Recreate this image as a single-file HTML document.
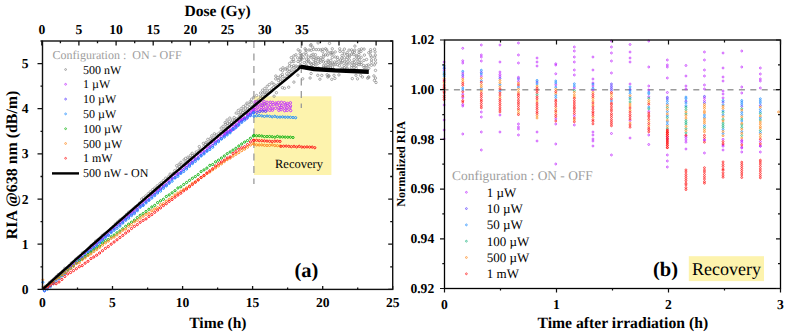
<!DOCTYPE html>
<html><head><meta charset="utf-8"><style>
html,body{margin:0;padding:0;background:#fff;}
body{width:788px;height:336px;overflow:hidden;font-family:"Liberation Serif",serif;}
svg{display:block;} text{text-rendering:geometricPrecision;}
</style></head><body><svg width="788" height="336" viewBox="0 0 788 336"><rect x="254" y="96.3" width="77.4" height="78.7" fill="#fdf3ad"/><line x1="253.9" y1="41" x2="253.9" y2="184" stroke="#9a9a9a" stroke-width="1.3" stroke-dasharray="7 5.5"/><line x1="301.3" y1="41" x2="301.3" y2="108" stroke="#9a9a9a" stroke-width="1.3" stroke-dasharray="7 5.5"/><path d="M43.8 286.3a1.2 1.2 0 1 0 2.4 0a1.2 1.2 0 1 0 -2.4 0M46.0 285.4a1.2 1.2 0 1 0 2.4 0a1.2 1.2 0 1 0 -2.4 0M48.2 282.5a1.2 1.2 0 1 0 2.4 0a1.2 1.2 0 1 0 -2.4 0M50.4 280.8a1.2 1.2 0 1 0 2.4 0a1.2 1.2 0 1 0 -2.4 0M52.6 278.9a1.2 1.2 0 1 0 2.4 0a1.2 1.2 0 1 0 -2.4 0M54.8 276.7a1.2 1.2 0 1 0 2.4 0a1.2 1.2 0 1 0 -2.4 0M57.0 274.5a1.2 1.2 0 1 0 2.4 0a1.2 1.2 0 1 0 -2.4 0M59.2 273.3a1.2 1.2 0 1 0 2.4 0a1.2 1.2 0 1 0 -2.4 0M61.4 271.2a1.2 1.2 0 1 0 2.4 0a1.2 1.2 0 1 0 -2.4 0M63.6 268.3a1.2 1.2 0 1 0 2.4 0a1.2 1.2 0 1 0 -2.4 0M65.8 268.1a1.2 1.2 0 1 0 2.4 0a1.2 1.2 0 1 0 -2.4 0M68.0 265.6a1.2 1.2 0 1 0 2.4 0a1.2 1.2 0 1 0 -2.4 0M70.2 262.9a1.2 1.2 0 1 0 2.4 0a1.2 1.2 0 1 0 -2.4 0M72.4 261.6a1.2 1.2 0 1 0 2.4 0a1.2 1.2 0 1 0 -2.4 0M74.6 259.1a1.2 1.2 0 1 0 2.4 0a1.2 1.2 0 1 0 -2.4 0M76.8 257.3a1.2 1.2 0 1 0 2.4 0a1.2 1.2 0 1 0 -2.4 0M79.0 255.7a1.2 1.2 0 1 0 2.4 0a1.2 1.2 0 1 0 -2.4 0M81.2 252.9a1.2 1.2 0 1 0 2.4 0a1.2 1.2 0 1 0 -2.4 0M83.4 251.7a1.2 1.2 0 1 0 2.4 0a1.2 1.2 0 1 0 -2.4 0M85.6 250.1a1.2 1.2 0 1 0 2.4 0a1.2 1.2 0 1 0 -2.4 0M87.8 248.1a1.2 1.2 0 1 0 2.4 0a1.2 1.2 0 1 0 -2.4 0M90.0 245.5a1.2 1.2 0 1 0 2.4 0a1.2 1.2 0 1 0 -2.4 0M92.2 244.0a1.2 1.2 0 1 0 2.4 0a1.2 1.2 0 1 0 -2.4 0M94.4 241.1a1.2 1.2 0 1 0 2.4 0a1.2 1.2 0 1 0 -2.4 0M96.6 239.7a1.2 1.2 0 1 0 2.4 0a1.2 1.2 0 1 0 -2.4 0M98.8 238.0a1.2 1.2 0 1 0 2.4 0a1.2 1.2 0 1 0 -2.4 0M101.0 235.4a1.2 1.2 0 1 0 2.4 0a1.2 1.2 0 1 0 -2.4 0M103.2 233.9a1.2 1.2 0 1 0 2.4 0a1.2 1.2 0 1 0 -2.4 0M105.4 232.7a1.2 1.2 0 1 0 2.4 0a1.2 1.2 0 1 0 -2.4 0M107.6 231.1a1.2 1.2 0 1 0 2.4 0a1.2 1.2 0 1 0 -2.4 0M109.8 228.5a1.2 1.2 0 1 0 2.4 0a1.2 1.2 0 1 0 -2.4 0M112.0 226.5a1.2 1.2 0 1 0 2.4 0a1.2 1.2 0 1 0 -2.4 0M114.2 223.9a1.2 1.2 0 1 0 2.4 0a1.2 1.2 0 1 0 -2.4 0M116.4 221.9a1.2 1.2 0 1 0 2.4 0a1.2 1.2 0 1 0 -2.4 0M118.6 219.9a1.2 1.2 0 1 0 2.4 0a1.2 1.2 0 1 0 -2.4 0M120.8 218.7a1.2 1.2 0 1 0 2.4 0a1.2 1.2 0 1 0 -2.4 0M123.0 216.9a1.2 1.2 0 1 0 2.4 0a1.2 1.2 0 1 0 -2.4 0M125.2 214.4a1.2 1.2 0 1 0 2.4 0a1.2 1.2 0 1 0 -2.4 0M127.4 212.2a1.2 1.2 0 1 0 2.4 0a1.2 1.2 0 1 0 -2.4 0M129.6 210.9a1.2 1.2 0 1 0 2.4 0a1.2 1.2 0 1 0 -2.4 0M131.8 209.0a1.2 1.2 0 1 0 2.4 0a1.2 1.2 0 1 0 -2.4 0M134.0 206.9a1.2 1.2 0 1 0 2.4 0a1.2 1.2 0 1 0 -2.4 0M136.2 205.6a1.2 1.2 0 1 0 2.4 0a1.2 1.2 0 1 0 -2.4 0M138.4 203.1a1.2 1.2 0 1 0 2.4 0a1.2 1.2 0 1 0 -2.4 0M140.4 199.2a1.2 1.2 0 1 0 2.4 0a1.2 1.2 0 1 0 -2.4 0M142.3 197.8a1.2 1.2 0 1 0 2.4 0a1.2 1.2 0 1 0 -2.4 0M144.6 195.9a1.2 1.2 0 1 0 2.4 0a1.2 1.2 0 1 0 -2.4 0M147.0 193.7a1.2 1.2 0 1 0 2.4 0a1.2 1.2 0 1 0 -2.4 0M149.1 191.8a1.2 1.2 0 1 0 2.4 0a1.2 1.2 0 1 0 -2.4 0M151.4 189.7a1.2 1.2 0 1 0 2.4 0a1.2 1.2 0 1 0 -2.4 0M153.6 188.0a1.2 1.2 0 1 0 2.4 0a1.2 1.2 0 1 0 -2.4 0M156.0 185.8a1.2 1.2 0 1 0 2.4 0a1.2 1.2 0 1 0 -2.4 0M158.6 183.8a1.2 1.2 0 1 0 2.4 0a1.2 1.2 0 1 0 -2.4 0M160.1 182.7a1.2 1.2 0 1 0 2.4 0a1.2 1.2 0 1 0 -2.4 0M162.2 180.6a1.2 1.2 0 1 0 2.4 0a1.2 1.2 0 1 0 -2.4 0M164.5 178.2a1.2 1.2 0 1 0 2.4 0a1.2 1.2 0 1 0 -2.4 0M167.4 176.6a1.2 1.2 0 1 0 2.4 0a1.2 1.2 0 1 0 -2.4 0M168.9 174.1a1.2 1.2 0 1 0 2.4 0a1.2 1.2 0 1 0 -2.4 0M171.8 173.5a1.2 1.2 0 1 0 2.4 0a1.2 1.2 0 1 0 -2.4 0M173.5 170.7a1.2 1.2 0 1 0 2.4 0a1.2 1.2 0 1 0 -2.4 0M176.3 168.5a1.2 1.2 0 1 0 2.4 0a1.2 1.2 0 1 0 -2.4 0M175.5 165.7a1.2 1.2 0 1 0 2.4 0a1.2 1.2 0 1 0 -2.4 0M178.3 166.8a1.2 1.2 0 1 0 2.4 0a1.2 1.2 0 1 0 -2.4 0M177.9 164.2a1.2 1.2 0 1 0 2.4 0a1.2 1.2 0 1 0 -2.4 0M180.0 165.0a1.2 1.2 0 1 0 2.4 0a1.2 1.2 0 1 0 -2.4 0M179.8 162.3a1.2 1.2 0 1 0 2.4 0a1.2 1.2 0 1 0 -2.4 0M182.8 164.1a1.2 1.2 0 1 0 2.4 0a1.2 1.2 0 1 0 -2.4 0M182.8 159.9a1.2 1.2 0 1 0 2.4 0a1.2 1.2 0 1 0 -2.4 0M184.8 162.1a1.2 1.2 0 1 0 2.4 0a1.2 1.2 0 1 0 -2.4 0M184.4 158.4a1.2 1.2 0 1 0 2.4 0a1.2 1.2 0 1 0 -2.4 0M186.6 159.7a1.2 1.2 0 1 0 2.4 0a1.2 1.2 0 1 0 -2.4 0M186.7 157.2a1.2 1.2 0 1 0 2.4 0a1.2 1.2 0 1 0 -2.4 0M188.6 157.8a1.2 1.2 0 1 0 2.4 0a1.2 1.2 0 1 0 -2.4 0M189.3 155.4a1.2 1.2 0 1 0 2.4 0a1.2 1.2 0 1 0 -2.4 0M191.4 155.6a1.2 1.2 0 1 0 2.4 0a1.2 1.2 0 1 0 -2.4 0M191.0 153.3a1.2 1.2 0 1 0 2.4 0a1.2 1.2 0 1 0 -2.4 0M193.6 154.7a1.2 1.2 0 1 0 2.4 0a1.2 1.2 0 1 0 -2.4 0M195.1 151.9a1.2 1.2 0 1 0 2.4 0a1.2 1.2 0 1 0 -2.4 0M197.9 150.1a1.2 1.2 0 1 0 2.4 0a1.2 1.2 0 1 0 -2.4 0M198.1 146.6a1.2 1.2 0 1 0 2.4 0a1.2 1.2 0 1 0 -2.4 0M199.6 149.1a1.2 1.2 0 1 0 2.4 0a1.2 1.2 0 1 0 -2.4 0M202.6 146.5a1.2 1.2 0 1 0 2.4 0a1.2 1.2 0 1 0 -2.4 0M202.2 143.4a1.2 1.2 0 1 0 2.4 0a1.2 1.2 0 1 0 -2.4 0M204.1 144.2a1.2 1.2 0 1 0 2.4 0a1.2 1.2 0 1 0 -2.4 0M204.8 142.4a1.2 1.2 0 1 0 2.4 0a1.2 1.2 0 1 0 -2.4 0M206.8 143.1a1.2 1.2 0 1 0 2.4 0a1.2 1.2 0 1 0 -2.4 0M206.6 139.4a1.2 1.2 0 1 0 2.4 0a1.2 1.2 0 1 0 -2.4 0M209.2 141.5a1.2 1.2 0 1 0 2.4 0a1.2 1.2 0 1 0 -2.4 0M209.2 138.6a1.2 1.2 0 1 0 2.4 0a1.2 1.2 0 1 0 -2.4 0M211.0 139.4a1.2 1.2 0 1 0 2.4 0a1.2 1.2 0 1 0 -2.4 0M210.6 135.8a1.2 1.2 0 1 0 2.4 0a1.2 1.2 0 1 0 -2.4 0M212.8 137.8a1.2 1.2 0 1 0 2.4 0a1.2 1.2 0 1 0 -2.4 0M213.2 133.8a1.2 1.2 0 1 0 2.4 0a1.2 1.2 0 1 0 -2.4 0M215.0 134.9a1.2 1.2 0 1 0 2.4 0a1.2 1.2 0 1 0 -2.4 0M217.6 133.3a1.2 1.2 0 1 0 2.4 0a1.2 1.2 0 1 0 -2.4 0M219.8 131.4a1.2 1.2 0 1 0 2.4 0a1.2 1.2 0 1 0 -2.4 0M220.0 128.1a1.2 1.2 0 1 0 2.4 0a1.2 1.2 0 1 0 -2.4 0M222.3 130.3a1.2 1.2 0 1 0 2.4 0a1.2 1.2 0 1 0 -2.4 0M221.9 126.3a1.2 1.2 0 1 0 2.4 0a1.2 1.2 0 1 0 -2.4 0M224.1 128.3a1.2 1.2 0 1 0 2.4 0a1.2 1.2 0 1 0 -2.4 0M224.3 124.3a1.2 1.2 0 1 0 2.4 0a1.2 1.2 0 1 0 -2.4 0M223.9 122.6a1.2 1.2 0 1 0 2.4 0a1.2 1.2 0 1 0 -2.4 0M225.9 125.7a1.2 1.2 0 1 0 2.4 0a1.2 1.2 0 1 0 -2.4 0M226.5 123.3a1.2 1.2 0 1 0 2.4 0a1.2 1.2 0 1 0 -2.4 0M225.9 120.0a1.2 1.2 0 1 0 2.4 0a1.2 1.2 0 1 0 -2.4 0M228.3 124.1a1.2 1.2 0 1 0 2.4 0a1.2 1.2 0 1 0 -2.4 0M228.3 121.7a1.2 1.2 0 1 0 2.4 0a1.2 1.2 0 1 0 -2.4 0M228.6 118.1a1.2 1.2 0 1 0 2.4 0a1.2 1.2 0 1 0 -2.4 0M230.4 122.5a1.2 1.2 0 1 0 2.4 0a1.2 1.2 0 1 0 -2.4 0M231.2 120.0a1.2 1.2 0 1 0 2.4 0a1.2 1.2 0 1 0 -2.4 0M233.4 120.5a1.2 1.2 0 1 0 2.4 0a1.2 1.2 0 1 0 -2.4 0M233.0 117.5a1.2 1.2 0 1 0 2.4 0a1.2 1.2 0 1 0 -2.4 0M234.9 118.8a1.2 1.2 0 1 0 2.4 0a1.2 1.2 0 1 0 -2.4 0M235.0 113.1a1.2 1.2 0 1 0 2.4 0a1.2 1.2 0 1 0 -2.4 0M237.6 117.5a1.2 1.2 0 1 0 2.4 0a1.2 1.2 0 1 0 -2.4 0M237.8 114.3a1.2 1.2 0 1 0 2.4 0a1.2 1.2 0 1 0 -2.4 0M237.1 110.4a1.2 1.2 0 1 0 2.4 0a1.2 1.2 0 1 0 -2.4 0M240.0 114.7a1.2 1.2 0 1 0 2.4 0a1.2 1.2 0 1 0 -2.4 0M239.5 111.9a1.2 1.2 0 1 0 2.4 0a1.2 1.2 0 1 0 -2.4 0M239.9 108.7a1.2 1.2 0 1 0 2.4 0a1.2 1.2 0 1 0 -2.4 0M241.6 112.5a1.2 1.2 0 1 0 2.4 0a1.2 1.2 0 1 0 -2.4 0M242.1 110.1a1.2 1.2 0 1 0 2.4 0a1.2 1.2 0 1 0 -2.4 0M242.1 106.6a1.2 1.2 0 1 0 2.4 0a1.2 1.2 0 1 0 -2.4 0M244.0 111.6a1.2 1.2 0 1 0 2.4 0a1.2 1.2 0 1 0 -2.4 0M244.4 108.2a1.2 1.2 0 1 0 2.4 0a1.2 1.2 0 1 0 -2.4 0M244.5 105.2a1.2 1.2 0 1 0 2.4 0a1.2 1.2 0 1 0 -2.4 0M246.5 108.8a1.2 1.2 0 1 0 2.4 0a1.2 1.2 0 1 0 -2.4 0M245.8 103.1a1.2 1.2 0 1 0 2.4 0a1.2 1.2 0 1 0 -2.4 0M248.3 107.6a1.2 1.2 0 1 0 2.4 0a1.2 1.2 0 1 0 -2.4 0M247.9 104.7a1.2 1.2 0 1 0 2.4 0a1.2 1.2 0 1 0 -2.4 0M248.9 101.7a1.2 1.2 0 1 0 2.4 0a1.2 1.2 0 1 0 -2.4 0M251.0 106.4a1.2 1.2 0 1 0 2.4 0a1.2 1.2 0 1 0 -2.4 0M250.2 102.3a1.2 1.2 0 1 0 2.4 0a1.2 1.2 0 1 0 -2.4 0M250.4 99.2a1.2 1.2 0 1 0 2.4 0a1.2 1.2 0 1 0 -2.4 0M253.2 104.2a1.2 1.2 0 1 0 2.4 0a1.2 1.2 0 1 0 -2.4 0M252.5 97.4a1.2 1.2 0 1 0 2.4 0a1.2 1.2 0 1 0 -2.4 0M255.4 101.6a1.2 1.2 0 1 0 2.4 0a1.2 1.2 0 1 0 -2.4 0M255.4 95.5a1.2 1.2 0 1 0 2.4 0a1.2 1.2 0 1 0 -2.4 0M257.1 100.1a1.2 1.2 0 1 0 2.4 0a1.2 1.2 0 1 0 -2.4 0M259.3 98.3a1.2 1.2 0 1 0 2.4 0a1.2 1.2 0 1 0 -2.4 0M259.5 96.0a1.2 1.2 0 1 0 2.4 0a1.2 1.2 0 1 0 -2.4 0M259.4 93.0a1.2 1.2 0 1 0 2.4 0a1.2 1.2 0 1 0 -2.4 0M261.4 96.4a1.2 1.2 0 1 0 2.4 0a1.2 1.2 0 1 0 -2.4 0M261.6 92.9a1.2 1.2 0 1 0 2.4 0a1.2 1.2 0 1 0 -2.4 0M261.4 90.2a1.2 1.2 0 1 0 2.4 0a1.2 1.2 0 1 0 -2.4 0M261.3 105.3a1.2 1.2 0 1 0 2.4 0a1.2 1.2 0 1 0 -2.4 0M264.3 94.6a1.2 1.2 0 1 0 2.4 0a1.2 1.2 0 1 0 -2.4 0M263.6 92.2a1.2 1.2 0 1 0 2.4 0a1.2 1.2 0 1 0 -2.4 0M263.6 88.5a1.2 1.2 0 1 0 2.4 0a1.2 1.2 0 1 0 -2.4 0M263.8 103.8a1.2 1.2 0 1 0 2.4 0a1.2 1.2 0 1 0 -2.4 0M265.6 93.0a1.2 1.2 0 1 0 2.4 0a1.2 1.2 0 1 0 -2.4 0M266.0 90.2a1.2 1.2 0 1 0 2.4 0a1.2 1.2 0 1 0 -2.4 0M266.0 86.3a1.2 1.2 0 1 0 2.4 0a1.2 1.2 0 1 0 -2.4 0M268.4 90.6a1.2 1.2 0 1 0 2.4 0a1.2 1.2 0 1 0 -2.4 0M268.1 84.5a1.2 1.2 0 1 0 2.4 0a1.2 1.2 0 1 0 -2.4 0M270.6 88.8a1.2 1.2 0 1 0 2.4 0a1.2 1.2 0 1 0 -2.4 0M270.7 82.8a1.2 1.2 0 1 0 2.4 0a1.2 1.2 0 1 0 -2.4 0M272.1 87.4a1.2 1.2 0 1 0 2.4 0a1.2 1.2 0 1 0 -2.4 0M272.8 84.3a1.2 1.2 0 1 0 2.4 0a1.2 1.2 0 1 0 -2.4 0M272.9 96.2a1.2 1.2 0 1 0 2.4 0a1.2 1.2 0 1 0 -2.4 0M274.7 85.9a1.2 1.2 0 1 0 2.4 0a1.2 1.2 0 1 0 -2.4 0M274.5 78.9a1.2 1.2 0 1 0 2.4 0a1.2 1.2 0 1 0 -2.4 0M274.6 76.0a1.2 1.2 0 1 0 2.4 0a1.2 1.2 0 1 0 -2.4 0M275.2 92.7a1.2 1.2 0 1 0 2.4 0a1.2 1.2 0 1 0 -2.4 0M276.8 84.5a1.2 1.2 0 1 0 2.4 0a1.2 1.2 0 1 0 -2.4 0M277.2 80.5a1.2 1.2 0 1 0 2.4 0a1.2 1.2 0 1 0 -2.4 0M276.7 77.6a1.2 1.2 0 1 0 2.4 0a1.2 1.2 0 1 0 -2.4 0M279.2 81.9a1.2 1.2 0 1 0 2.4 0a1.2 1.2 0 1 0 -2.4 0M279.1 78.9a1.2 1.2 0 1 0 2.4 0a1.2 1.2 0 1 0 -2.4 0M279.3 75.9a1.2 1.2 0 1 0 2.4 0a1.2 1.2 0 1 0 -2.4 0M279.4 69.5a1.2 1.2 0 1 0 2.4 0a1.2 1.2 0 1 0 -2.4 0M281.5 80.8a1.2 1.2 0 1 0 2.4 0a1.2 1.2 0 1 0 -2.4 0M281.6 76.6a1.2 1.2 0 1 0 2.4 0a1.2 1.2 0 1 0 -2.4 0M281.1 74.4a1.2 1.2 0 1 0 2.4 0a1.2 1.2 0 1 0 -2.4 0M281.4 70.8a1.2 1.2 0 1 0 2.4 0a1.2 1.2 0 1 0 -2.4 0M281.7 67.8a1.2 1.2 0 1 0 2.4 0a1.2 1.2 0 1 0 -2.4 0M281.2 87.7a1.2 1.2 0 1 0 2.4 0a1.2 1.2 0 1 0 -2.4 0M283.8 78.5a1.2 1.2 0 1 0 2.4 0a1.2 1.2 0 1 0 -2.4 0M284.0 69.0a1.2 1.2 0 1 0 2.4 0a1.2 1.2 0 1 0 -2.4 0M283.3 88.3a1.2 1.2 0 1 0 2.4 0a1.2 1.2 0 1 0 -2.4 0M285.8 76.4a1.2 1.2 0 1 0 2.4 0a1.2 1.2 0 1 0 -2.4 0M285.5 73.7a1.2 1.2 0 1 0 2.4 0a1.2 1.2 0 1 0 -2.4 0M286.2 70.0a1.2 1.2 0 1 0 2.4 0a1.2 1.2 0 1 0 -2.4 0M285.9 67.9a1.2 1.2 0 1 0 2.4 0a1.2 1.2 0 1 0 -2.4 0M288.2 75.0a1.2 1.2 0 1 0 2.4 0a1.2 1.2 0 1 0 -2.4 0M287.9 71.5a1.2 1.2 0 1 0 2.4 0a1.2 1.2 0 1 0 -2.4 0M288.3 65.9a1.2 1.2 0 1 0 2.4 0a1.2 1.2 0 1 0 -2.4 0M288.4 63.4a1.2 1.2 0 1 0 2.4 0a1.2 1.2 0 1 0 -2.4 0M287.5 87.2a1.2 1.2 0 1 0 2.4 0a1.2 1.2 0 1 0 -2.4 0M289.7 72.7a1.2 1.2 0 1 0 2.4 0a1.2 1.2 0 1 0 -2.4 0M290.0 70.0a1.2 1.2 0 1 0 2.4 0a1.2 1.2 0 1 0 -2.4 0M290.5 66.6a1.2 1.2 0 1 0 2.4 0a1.2 1.2 0 1 0 -2.4 0M290.7 61.4a1.2 1.2 0 1 0 2.4 0a1.2 1.2 0 1 0 -2.4 0M290.1 57.6a1.2 1.2 0 1 0 2.4 0a1.2 1.2 0 1 0 -2.4 0M292.9 71.2a1.2 1.2 0 1 0 2.4 0a1.2 1.2 0 1 0 -2.4 0M292.6 67.7a1.2 1.2 0 1 0 2.4 0a1.2 1.2 0 1 0 -2.4 0M292.5 65.7a1.2 1.2 0 1 0 2.4 0a1.2 1.2 0 1 0 -2.4 0M292.6 61.5a1.2 1.2 0 1 0 2.4 0a1.2 1.2 0 1 0 -2.4 0M292.3 59.3a1.2 1.2 0 1 0 2.4 0a1.2 1.2 0 1 0 -2.4 0M292.6 55.9a1.2 1.2 0 1 0 2.4 0a1.2 1.2 0 1 0 -2.4 0M292.7 82.1a1.2 1.2 0 1 0 2.4 0a1.2 1.2 0 1 0 -2.4 0M295.1 68.8a1.2 1.2 0 1 0 2.4 0a1.2 1.2 0 1 0 -2.4 0M294.9 66.0a1.2 1.2 0 1 0 2.4 0a1.2 1.2 0 1 0 -2.4 0M294.7 54.8a1.2 1.2 0 1 0 2.4 0a1.2 1.2 0 1 0 -2.4 0M296.7 67.0a1.2 1.2 0 1 0 2.4 0a1.2 1.2 0 1 0 -2.4 0M296.8 61.5a1.2 1.2 0 1 0 2.4 0a1.2 1.2 0 1 0 -2.4 0M296.4 57.8a1.2 1.2 0 1 0 2.4 0a1.2 1.2 0 1 0 -2.4 0M297.0 49.8a1.2 1.2 0 1 0 2.4 0a1.2 1.2 0 1 0 -2.4 0M296.7 75.2a1.2 1.2 0 1 0 2.4 0a1.2 1.2 0 1 0 -2.4 0M298.6 65.8a1.2 1.2 0 1 0 2.4 0a1.2 1.2 0 1 0 -2.4 0M299.1 62.4a1.2 1.2 0 1 0 2.4 0a1.2 1.2 0 1 0 -2.4 0M298.9 59.6a1.2 1.2 0 1 0 2.4 0a1.2 1.2 0 1 0 -2.4 0M299.3 57.3a1.2 1.2 0 1 0 2.4 0a1.2 1.2 0 1 0 -2.4 0M298.9 53.7a1.2 1.2 0 1 0 2.4 0a1.2 1.2 0 1 0 -2.4 0M298.9 51.1a1.2 1.2 0 1 0 2.4 0a1.2 1.2 0 1 0 -2.4 0M304.8 50.1a1.2 1.2 0 1 0 2.4 0a1.2 1.2 0 1 0 -2.4 0M307.8 50.0a1.2 1.2 0 1 0 2.4 0a1.2 1.2 0 1 0 -2.4 0M310.0 50.3a1.2 1.2 0 1 0 2.4 0a1.2 1.2 0 1 0 -2.4 0M312.4 49.4a1.2 1.2 0 1 0 2.4 0a1.2 1.2 0 1 0 -2.4 0M315.0 49.6a1.2 1.2 0 1 0 2.4 0a1.2 1.2 0 1 0 -2.4 0M317.4 49.6a1.2 1.2 0 1 0 2.4 0a1.2 1.2 0 1 0 -2.4 0M319.6 49.9a1.2 1.2 0 1 0 2.4 0a1.2 1.2 0 1 0 -2.4 0M321.5 49.3a1.2 1.2 0 1 0 2.4 0a1.2 1.2 0 1 0 -2.4 0M324.4 48.8a1.2 1.2 0 1 0 2.4 0a1.2 1.2 0 1 0 -2.4 0M331.1 48.8a1.2 1.2 0 1 0 2.4 0a1.2 1.2 0 1 0 -2.4 0M338.5 48.8a1.2 1.2 0 1 0 2.4 0a1.2 1.2 0 1 0 -2.4 0M343.2 49.1a1.2 1.2 0 1 0 2.4 0a1.2 1.2 0 1 0 -2.4 0M347.8 50.1a1.2 1.2 0 1 0 2.4 0a1.2 1.2 0 1 0 -2.4 0M350.4 49.9a1.2 1.2 0 1 0 2.4 0a1.2 1.2 0 1 0 -2.4 0M353.6 50.1a1.2 1.2 0 1 0 2.4 0a1.2 1.2 0 1 0 -2.4 0M357.7 49.8a1.2 1.2 0 1 0 2.4 0a1.2 1.2 0 1 0 -2.4 0M360.3 48.9a1.2 1.2 0 1 0 2.4 0a1.2 1.2 0 1 0 -2.4 0M369.4 49.7a1.2 1.2 0 1 0 2.4 0a1.2 1.2 0 1 0 -2.4 0M304.7 52.3a1.2 1.2 0 1 0 2.4 0a1.2 1.2 0 1 0 -2.4 0M321.6 51.7a1.2 1.2 0 1 0 2.4 0a1.2 1.2 0 1 0 -2.4 0M326.6 51.9a1.2 1.2 0 1 0 2.4 0a1.2 1.2 0 1 0 -2.4 0M329.5 52.6a1.2 1.2 0 1 0 2.4 0a1.2 1.2 0 1 0 -2.4 0M331.0 52.3a1.2 1.2 0 1 0 2.4 0a1.2 1.2 0 1 0 -2.4 0M334.0 51.9a1.2 1.2 0 1 0 2.4 0a1.2 1.2 0 1 0 -2.4 0M338.7 51.4a1.2 1.2 0 1 0 2.4 0a1.2 1.2 0 1 0 -2.4 0M341.6 51.5a1.2 1.2 0 1 0 2.4 0a1.2 1.2 0 1 0 -2.4 0M346.0 52.7a1.2 1.2 0 1 0 2.4 0a1.2 1.2 0 1 0 -2.4 0M351.3 51.8a1.2 1.2 0 1 0 2.4 0a1.2 1.2 0 1 0 -2.4 0M353.2 52.2a1.2 1.2 0 1 0 2.4 0a1.2 1.2 0 1 0 -2.4 0M357.8 52.2a1.2 1.2 0 1 0 2.4 0a1.2 1.2 0 1 0 -2.4 0M359.8 51.4a1.2 1.2 0 1 0 2.4 0a1.2 1.2 0 1 0 -2.4 0M367.6 52.7a1.2 1.2 0 1 0 2.4 0a1.2 1.2 0 1 0 -2.4 0M369.5 51.8a1.2 1.2 0 1 0 2.4 0a1.2 1.2 0 1 0 -2.4 0M300.1 55.3a1.2 1.2 0 1 0 2.4 0a1.2 1.2 0 1 0 -2.4 0M302.2 54.3a1.2 1.2 0 1 0 2.4 0a1.2 1.2 0 1 0 -2.4 0M305.4 54.9a1.2 1.2 0 1 0 2.4 0a1.2 1.2 0 1 0 -2.4 0M310.0 55.4a1.2 1.2 0 1 0 2.4 0a1.2 1.2 0 1 0 -2.4 0M311.9 54.3a1.2 1.2 0 1 0 2.4 0a1.2 1.2 0 1 0 -2.4 0M314.2 54.7a1.2 1.2 0 1 0 2.4 0a1.2 1.2 0 1 0 -2.4 0M322.4 54.9a1.2 1.2 0 1 0 2.4 0a1.2 1.2 0 1 0 -2.4 0M324.5 54.8a1.2 1.2 0 1 0 2.4 0a1.2 1.2 0 1 0 -2.4 0M326.4 55.1a1.2 1.2 0 1 0 2.4 0a1.2 1.2 0 1 0 -2.4 0M329.7 54.1a1.2 1.2 0 1 0 2.4 0a1.2 1.2 0 1 0 -2.4 0M331.9 54.2a1.2 1.2 0 1 0 2.4 0a1.2 1.2 0 1 0 -2.4 0M340.8 55.4a1.2 1.2 0 1 0 2.4 0a1.2 1.2 0 1 0 -2.4 0M343.3 54.0a1.2 1.2 0 1 0 2.4 0a1.2 1.2 0 1 0 -2.4 0M346.2 54.7a1.2 1.2 0 1 0 2.4 0a1.2 1.2 0 1 0 -2.4 0M348.5 55.1a1.2 1.2 0 1 0 2.4 0a1.2 1.2 0 1 0 -2.4 0M350.5 54.2a1.2 1.2 0 1 0 2.4 0a1.2 1.2 0 1 0 -2.4 0M352.6 54.6a1.2 1.2 0 1 0 2.4 0a1.2 1.2 0 1 0 -2.4 0M355.2 55.5a1.2 1.2 0 1 0 2.4 0a1.2 1.2 0 1 0 -2.4 0M357.7 54.5a1.2 1.2 0 1 0 2.4 0a1.2 1.2 0 1 0 -2.4 0M363.2 55.1a1.2 1.2 0 1 0 2.4 0a1.2 1.2 0 1 0 -2.4 0M369.4 55.3a1.2 1.2 0 1 0 2.4 0a1.2 1.2 0 1 0 -2.4 0M299.9 58.0a1.2 1.2 0 1 0 2.4 0a1.2 1.2 0 1 0 -2.4 0M302.3 57.5a1.2 1.2 0 1 0 2.4 0a1.2 1.2 0 1 0 -2.4 0M307.4 57.2a1.2 1.2 0 1 0 2.4 0a1.2 1.2 0 1 0 -2.4 0M309.9 57.2a1.2 1.2 0 1 0 2.4 0a1.2 1.2 0 1 0 -2.4 0M312.8 57.4a1.2 1.2 0 1 0 2.4 0a1.2 1.2 0 1 0 -2.4 0M314.9 58.0a1.2 1.2 0 1 0 2.4 0a1.2 1.2 0 1 0 -2.4 0M316.9 57.7a1.2 1.2 0 1 0 2.4 0a1.2 1.2 0 1 0 -2.4 0M319.6 57.7a1.2 1.2 0 1 0 2.4 0a1.2 1.2 0 1 0 -2.4 0M322.3 56.7a1.2 1.2 0 1 0 2.4 0a1.2 1.2 0 1 0 -2.4 0M331.1 57.5a1.2 1.2 0 1 0 2.4 0a1.2 1.2 0 1 0 -2.4 0M334.1 57.0a1.2 1.2 0 1 0 2.4 0a1.2 1.2 0 1 0 -2.4 0M336.2 57.3a1.2 1.2 0 1 0 2.4 0a1.2 1.2 0 1 0 -2.4 0M340.6 58.0a1.2 1.2 0 1 0 2.4 0a1.2 1.2 0 1 0 -2.4 0M343.3 57.7a1.2 1.2 0 1 0 2.4 0a1.2 1.2 0 1 0 -2.4 0M346.2 57.3a1.2 1.2 0 1 0 2.4 0a1.2 1.2 0 1 0 -2.4 0M348.1 57.0a1.2 1.2 0 1 0 2.4 0a1.2 1.2 0 1 0 -2.4 0M355.3 56.7a1.2 1.2 0 1 0 2.4 0a1.2 1.2 0 1 0 -2.4 0M357.6 57.7a1.2 1.2 0 1 0 2.4 0a1.2 1.2 0 1 0 -2.4 0M360.0 57.3a1.2 1.2 0 1 0 2.4 0a1.2 1.2 0 1 0 -2.4 0M370.1 57.0a1.2 1.2 0 1 0 2.4 0a1.2 1.2 0 1 0 -2.4 0M300.5 59.3a1.2 1.2 0 1 0 2.4 0a1.2 1.2 0 1 0 -2.4 0M305.3 59.2a1.2 1.2 0 1 0 2.4 0a1.2 1.2 0 1 0 -2.4 0M307.1 60.1a1.2 1.2 0 1 0 2.4 0a1.2 1.2 0 1 0 -2.4 0M312.1 59.3a1.2 1.2 0 1 0 2.4 0a1.2 1.2 0 1 0 -2.4 0M314.5 60.7a1.2 1.2 0 1 0 2.4 0a1.2 1.2 0 1 0 -2.4 0M317.3 59.5a1.2 1.2 0 1 0 2.4 0a1.2 1.2 0 1 0 -2.4 0M319.4 60.1a1.2 1.2 0 1 0 2.4 0a1.2 1.2 0 1 0 -2.4 0M321.8 59.4a1.2 1.2 0 1 0 2.4 0a1.2 1.2 0 1 0 -2.4 0M326.8 60.3a1.2 1.2 0 1 0 2.4 0a1.2 1.2 0 1 0 -2.4 0M329.6 60.4a1.2 1.2 0 1 0 2.4 0a1.2 1.2 0 1 0 -2.4 0M336.5 59.5a1.2 1.2 0 1 0 2.4 0a1.2 1.2 0 1 0 -2.4 0M339.2 60.0a1.2 1.2 0 1 0 2.4 0a1.2 1.2 0 1 0 -2.4 0M341.4 60.7a1.2 1.2 0 1 0 2.4 0a1.2 1.2 0 1 0 -2.4 0M345.4 59.6a1.2 1.2 0 1 0 2.4 0a1.2 1.2 0 1 0 -2.4 0M348.2 60.1a1.2 1.2 0 1 0 2.4 0a1.2 1.2 0 1 0 -2.4 0M352.9 59.4a1.2 1.2 0 1 0 2.4 0a1.2 1.2 0 1 0 -2.4 0M355.7 59.8a1.2 1.2 0 1 0 2.4 0a1.2 1.2 0 1 0 -2.4 0M358.1 59.7a1.2 1.2 0 1 0 2.4 0a1.2 1.2 0 1 0 -2.4 0M362.7 60.4a1.2 1.2 0 1 0 2.4 0a1.2 1.2 0 1 0 -2.4 0M365.4 59.5a1.2 1.2 0 1 0 2.4 0a1.2 1.2 0 1 0 -2.4 0M370.4 59.9a1.2 1.2 0 1 0 2.4 0a1.2 1.2 0 1 0 -2.4 0M303.0 62.6a1.2 1.2 0 1 0 2.4 0a1.2 1.2 0 1 0 -2.4 0M305.5 62.0a1.2 1.2 0 1 0 2.4 0a1.2 1.2 0 1 0 -2.4 0M307.7 61.8a1.2 1.2 0 1 0 2.4 0a1.2 1.2 0 1 0 -2.4 0M309.4 63.2a1.2 1.2 0 1 0 2.4 0a1.2 1.2 0 1 0 -2.4 0M312.4 63.2a1.2 1.2 0 1 0 2.4 0a1.2 1.2 0 1 0 -2.4 0M314.1 62.3a1.2 1.2 0 1 0 2.4 0a1.2 1.2 0 1 0 -2.4 0M317.1 63.2a1.2 1.2 0 1 0 2.4 0a1.2 1.2 0 1 0 -2.4 0M319.0 62.3a1.2 1.2 0 1 0 2.4 0a1.2 1.2 0 1 0 -2.4 0M322.3 62.0a1.2 1.2 0 1 0 2.4 0a1.2 1.2 0 1 0 -2.4 0M324.5 62.4a1.2 1.2 0 1 0 2.4 0a1.2 1.2 0 1 0 -2.4 0M327.2 61.8a1.2 1.2 0 1 0 2.4 0a1.2 1.2 0 1 0 -2.4 0M328.9 63.2a1.2 1.2 0 1 0 2.4 0a1.2 1.2 0 1 0 -2.4 0M331.2 63.1a1.2 1.2 0 1 0 2.4 0a1.2 1.2 0 1 0 -2.4 0M333.5 61.9a1.2 1.2 0 1 0 2.4 0a1.2 1.2 0 1 0 -2.4 0M335.8 62.3a1.2 1.2 0 1 0 2.4 0a1.2 1.2 0 1 0 -2.4 0M339.0 62.8a1.2 1.2 0 1 0 2.4 0a1.2 1.2 0 1 0 -2.4 0M340.5 62.7a1.2 1.2 0 1 0 2.4 0a1.2 1.2 0 1 0 -2.4 0M343.6 61.9a1.2 1.2 0 1 0 2.4 0a1.2 1.2 0 1 0 -2.4 0M345.5 62.8a1.2 1.2 0 1 0 2.4 0a1.2 1.2 0 1 0 -2.4 0M348.0 63.0a1.2 1.2 0 1 0 2.4 0a1.2 1.2 0 1 0 -2.4 0M351.1 62.5a1.2 1.2 0 1 0 2.4 0a1.2 1.2 0 1 0 -2.4 0M352.9 62.5a1.2 1.2 0 1 0 2.4 0a1.2 1.2 0 1 0 -2.4 0M355.6 63.1a1.2 1.2 0 1 0 2.4 0a1.2 1.2 0 1 0 -2.4 0M358.0 62.7a1.2 1.2 0 1 0 2.4 0a1.2 1.2 0 1 0 -2.4 0M360.0 62.4a1.2 1.2 0 1 0 2.4 0a1.2 1.2 0 1 0 -2.4 0M370.3 62.4a1.2 1.2 0 1 0 2.4 0a1.2 1.2 0 1 0 -2.4 0M305.1 65.4a1.2 1.2 0 1 0 2.4 0a1.2 1.2 0 1 0 -2.4 0M310.1 64.4a1.2 1.2 0 1 0 2.4 0a1.2 1.2 0 1 0 -2.4 0M312.1 65.5a1.2 1.2 0 1 0 2.4 0a1.2 1.2 0 1 0 -2.4 0M314.8 65.1a1.2 1.2 0 1 0 2.4 0a1.2 1.2 0 1 0 -2.4 0M322.4 65.5a1.2 1.2 0 1 0 2.4 0a1.2 1.2 0 1 0 -2.4 0M324.6 65.8a1.2 1.2 0 1 0 2.4 0a1.2 1.2 0 1 0 -2.4 0M326.8 64.5a1.2 1.2 0 1 0 2.4 0a1.2 1.2 0 1 0 -2.4 0M329.1 65.0a1.2 1.2 0 1 0 2.4 0a1.2 1.2 0 1 0 -2.4 0M332.1 64.3a1.2 1.2 0 1 0 2.4 0a1.2 1.2 0 1 0 -2.4 0M333.7 64.7a1.2 1.2 0 1 0 2.4 0a1.2 1.2 0 1 0 -2.4 0M336.2 64.7a1.2 1.2 0 1 0 2.4 0a1.2 1.2 0 1 0 -2.4 0M338.2 65.7a1.2 1.2 0 1 0 2.4 0a1.2 1.2 0 1 0 -2.4 0M342.9 65.4a1.2 1.2 0 1 0 2.4 0a1.2 1.2 0 1 0 -2.4 0M345.7 65.1a1.2 1.2 0 1 0 2.4 0a1.2 1.2 0 1 0 -2.4 0M350.5 65.5a1.2 1.2 0 1 0 2.4 0a1.2 1.2 0 1 0 -2.4 0M352.9 65.1a1.2 1.2 0 1 0 2.4 0a1.2 1.2 0 1 0 -2.4 0M355.3 65.4a1.2 1.2 0 1 0 2.4 0a1.2 1.2 0 1 0 -2.4 0M357.9 64.6a1.2 1.2 0 1 0 2.4 0a1.2 1.2 0 1 0 -2.4 0M360.1 64.6a1.2 1.2 0 1 0 2.4 0a1.2 1.2 0 1 0 -2.4 0M362.4 65.5a1.2 1.2 0 1 0 2.4 0a1.2 1.2 0 1 0 -2.4 0M365.4 65.6a1.2 1.2 0 1 0 2.4 0a1.2 1.2 0 1 0 -2.4 0M367.1 64.9a1.2 1.2 0 1 0 2.4 0a1.2 1.2 0 1 0 -2.4 0M370.2 65.3a1.2 1.2 0 1 0 2.4 0a1.2 1.2 0 1 0 -2.4 0M304.8 67.9a1.2 1.2 0 1 0 2.4 0a1.2 1.2 0 1 0 -2.4 0M310.4 67.3a1.2 1.2 0 1 0 2.4 0a1.2 1.2 0 1 0 -2.4 0M312.5 68.4a1.2 1.2 0 1 0 2.4 0a1.2 1.2 0 1 0 -2.4 0M314.7 68.2a1.2 1.2 0 1 0 2.4 0a1.2 1.2 0 1 0 -2.4 0M317.2 68.0a1.2 1.2 0 1 0 2.4 0a1.2 1.2 0 1 0 -2.4 0M322.4 67.3a1.2 1.2 0 1 0 2.4 0a1.2 1.2 0 1 0 -2.4 0M324.7 67.5a1.2 1.2 0 1 0 2.4 0a1.2 1.2 0 1 0 -2.4 0M326.8 67.5a1.2 1.2 0 1 0 2.4 0a1.2 1.2 0 1 0 -2.4 0M329.1 67.2a1.2 1.2 0 1 0 2.4 0a1.2 1.2 0 1 0 -2.4 0M331.2 67.1a1.2 1.2 0 1 0 2.4 0a1.2 1.2 0 1 0 -2.4 0M340.8 68.3a1.2 1.2 0 1 0 2.4 0a1.2 1.2 0 1 0 -2.4 0M343.4 67.9a1.2 1.2 0 1 0 2.4 0a1.2 1.2 0 1 0 -2.4 0M345.9 68.2a1.2 1.2 0 1 0 2.4 0a1.2 1.2 0 1 0 -2.4 0M350.3 67.6a1.2 1.2 0 1 0 2.4 0a1.2 1.2 0 1 0 -2.4 0M352.8 67.5a1.2 1.2 0 1 0 2.4 0a1.2 1.2 0 1 0 -2.4 0M355.0 68.3a1.2 1.2 0 1 0 2.4 0a1.2 1.2 0 1 0 -2.4 0M362.8 67.5a1.2 1.2 0 1 0 2.4 0a1.2 1.2 0 1 0 -2.4 0M364.8 67.8a1.2 1.2 0 1 0 2.4 0a1.2 1.2 0 1 0 -2.4 0M367.7 68.3a1.2 1.2 0 1 0 2.4 0a1.2 1.2 0 1 0 -2.4 0M362.9 49.1a1.2 1.2 0 1 0 2.4 0a1.2 1.2 0 1 0 -2.4 0M353.7 46.1a1.2 1.2 0 1 0 2.4 0a1.2 1.2 0 1 0 -2.4 0M316.9 42.9a1.2 1.2 0 1 0 2.4 0a1.2 1.2 0 1 0 -2.4 0M328.3 43.4a1.2 1.2 0 1 0 2.4 0a1.2 1.2 0 1 0 -2.4 0M309.9 44.7a1.2 1.2 0 1 0 2.4 0a1.2 1.2 0 1 0 -2.4 0M325.4 49.8a1.2 1.2 0 1 0 2.4 0a1.2 1.2 0 1 0 -2.4 0M311.5 47.2a1.2 1.2 0 1 0 2.4 0a1.2 1.2 0 1 0 -2.4 0M303.9 48.8a1.2 1.2 0 1 0 2.4 0a1.2 1.2 0 1 0 -2.4 0M309.3 45.4a1.2 1.2 0 1 0 2.4 0a1.2 1.2 0 1 0 -2.4 0M333.7 78.4a1.2 1.2 0 1 0 2.4 0a1.2 1.2 0 1 0 -2.4 0M332.8 75.3a1.2 1.2 0 1 0 2.4 0a1.2 1.2 0 1 0 -2.4 0M354.8 75.3a1.2 1.2 0 1 0 2.4 0a1.2 1.2 0 1 0 -2.4 0M366.4 78.2a1.2 1.2 0 1 0 2.4 0a1.2 1.2 0 1 0 -2.4 0M301.5 78.8a1.2 1.2 0 1 0 2.4 0a1.2 1.2 0 1 0 -2.4 0M359.4 75.4a1.2 1.2 0 1 0 2.4 0a1.2 1.2 0 1 0 -2.4 0M367.5 76.9a1.2 1.2 0 1 0 2.4 0a1.2 1.2 0 1 0 -2.4 0M367.3 77.4a1.2 1.2 0 1 0 2.4 0a1.2 1.2 0 1 0 -2.4 0M327.8 75.8a1.2 1.2 0 1 0 2.4 0a1.2 1.2 0 1 0 -2.4 0M351.1 78.6a1.2 1.2 0 1 0 2.4 0a1.2 1.2 0 1 0 -2.4 0M356.3 78.8a1.2 1.2 0 1 0 2.4 0a1.2 1.2 0 1 0 -2.4 0M309.9 73.5a1.2 1.2 0 1 0 2.4 0a1.2 1.2 0 1 0 -2.4 0M320.6 75.4a1.2 1.2 0 1 0 2.4 0a1.2 1.2 0 1 0 -2.4 0M326.6 77.0a1.2 1.2 0 1 0 2.4 0a1.2 1.2 0 1 0 -2.4 0M318.7 79.2a1.2 1.2 0 1 0 2.4 0a1.2 1.2 0 1 0 -2.4 0M325.9 74.8a1.2 1.2 0 1 0 2.4 0a1.2 1.2 0 1 0 -2.4 0M327.4 76.2a1.2 1.2 0 1 0 2.4 0a1.2 1.2 0 1 0 -2.4 0M337.7 74.9a1.2 1.2 0 1 0 2.4 0a1.2 1.2 0 1 0 -2.4 0M330.6 79.3a1.2 1.2 0 1 0 2.4 0a1.2 1.2 0 1 0 -2.4 0M308.9 78.0a1.2 1.2 0 1 0 2.4 0a1.2 1.2 0 1 0 -2.4 0M316.6 75.3a1.2 1.2 0 1 0 2.4 0a1.2 1.2 0 1 0 -2.4 0M361.2 77.0a1.2 1.2 0 1 0 2.4 0a1.2 1.2 0 1 0 -2.4 0M373.4 49.2a1.2 1.2 0 1 0 2.4 0a1.2 1.2 0 1 0 -2.4 0M373.9 51.8a1.2 1.2 0 1 0 2.4 0a1.2 1.2 0 1 0 -2.4 0M374.1 55.1a1.2 1.2 0 1 0 2.4 0a1.2 1.2 0 1 0 -2.4 0M373.5 57.1a1.2 1.2 0 1 0 2.4 0a1.2 1.2 0 1 0 -2.4 0M374.3 59.9a1.2 1.2 0 1 0 2.4 0a1.2 1.2 0 1 0 -2.4 0M374.4 62.9a1.2 1.2 0 1 0 2.4 0a1.2 1.2 0 1 0 -2.4 0M373.1 64.9a1.2 1.2 0 1 0 2.4 0a1.2 1.2 0 1 0 -2.4 0M374.3 70.4a1.2 1.2 0 1 0 2.4 0a1.2 1.2 0 1 0 -2.4 0M372.7 75.9a1.2 1.2 0 1 0 2.4 0a1.2 1.2 0 1 0 -2.4 0M374.3 78.1a1.2 1.2 0 1 0 2.4 0a1.2 1.2 0 1 0 -2.4 0M373.2 80.4a1.2 1.2 0 1 0 2.4 0a1.2 1.2 0 1 0 -2.4 0M374.8 82.5a1.2 1.2 0 1 0 2.4 0a1.2 1.2 0 1 0 -2.4 0" fill="none" stroke="#858585" stroke-width="0.7"/><path d="M43.4 288.5a1.1 1.1 0 1 0 2.2 0a1.1 1.1 0 1 0 -2.2 0M46.3 285.8a1.1 1.1 0 1 0 2.2 0a1.1 1.1 0 1 0 -2.2 0M49.2 283.1a1.1 1.1 0 1 0 2.2 0a1.1 1.1 0 1 0 -2.2 0M52.1 281.1a1.1 1.1 0 1 0 2.2 0a1.1 1.1 0 1 0 -2.2 0M55.0 278.1a1.1 1.1 0 1 0 2.2 0a1.1 1.1 0 1 0 -2.2 0M57.9 276.0a1.1 1.1 0 1 0 2.2 0a1.1 1.1 0 1 0 -2.2 0M60.8 273.1a1.1 1.1 0 1 0 2.2 0a1.1 1.1 0 1 0 -2.2 0M63.7 270.5a1.1 1.1 0 1 0 2.2 0a1.1 1.1 0 1 0 -2.2 0M66.6 268.4a1.1 1.1 0 1 0 2.2 0a1.1 1.1 0 1 0 -2.2 0M69.5 265.8a1.1 1.1 0 1 0 2.2 0a1.1 1.1 0 1 0 -2.2 0M72.4 262.7a1.1 1.1 0 1 0 2.2 0a1.1 1.1 0 1 0 -2.2 0M75.3 260.4a1.1 1.1 0 1 0 2.2 0a1.1 1.1 0 1 0 -2.2 0M78.2 257.9a1.1 1.1 0 1 0 2.2 0a1.1 1.1 0 1 0 -2.2 0M81.1 255.5a1.1 1.1 0 1 0 2.2 0a1.1 1.1 0 1 0 -2.2 0M84.0 252.6a1.1 1.1 0 1 0 2.2 0a1.1 1.1 0 1 0 -2.2 0M86.9 250.1a1.1 1.1 0 1 0 2.2 0a1.1 1.1 0 1 0 -2.2 0M89.8 247.7a1.1 1.1 0 1 0 2.2 0a1.1 1.1 0 1 0 -2.2 0M92.7 245.4a1.1 1.1 0 1 0 2.2 0a1.1 1.1 0 1 0 -2.2 0M95.6 242.9a1.1 1.1 0 1 0 2.2 0a1.1 1.1 0 1 0 -2.2 0M98.5 239.9a1.1 1.1 0 1 0 2.2 0a1.1 1.1 0 1 0 -2.2 0M101.4 238.1a1.1 1.1 0 1 0 2.2 0a1.1 1.1 0 1 0 -2.2 0M104.3 235.2a1.1 1.1 0 1 0 2.2 0a1.1 1.1 0 1 0 -2.2 0M107.2 232.3a1.1 1.1 0 1 0 2.2 0a1.1 1.1 0 1 0 -2.2 0M110.1 229.5a1.1 1.1 0 1 0 2.2 0a1.1 1.1 0 1 0 -2.2 0M113.0 227.3a1.1 1.1 0 1 0 2.2 0a1.1 1.1 0 1 0 -2.2 0M115.9 224.3a1.1 1.1 0 1 0 2.2 0a1.1 1.1 0 1 0 -2.2 0M118.8 222.5a1.1 1.1 0 1 0 2.2 0a1.1 1.1 0 1 0 -2.2 0M121.7 220.1a1.1 1.1 0 1 0 2.2 0a1.1 1.1 0 1 0 -2.2 0M124.6 217.8a1.1 1.1 0 1 0 2.2 0a1.1 1.1 0 1 0 -2.2 0M127.5 215.1a1.1 1.1 0 1 0 2.2 0a1.1 1.1 0 1 0 -2.2 0M130.4 211.9a1.1 1.1 0 1 0 2.2 0a1.1 1.1 0 1 0 -2.2 0M133.3 209.8a1.1 1.1 0 1 0 2.2 0a1.1 1.1 0 1 0 -2.2 0M136.2 207.6a1.1 1.1 0 1 0 2.2 0a1.1 1.1 0 1 0 -2.2 0M139.1 204.3a1.1 1.1 0 1 0 2.2 0a1.1 1.1 0 1 0 -2.2 0M142.0 202.2a1.1 1.1 0 1 0 2.2 0a1.1 1.1 0 1 0 -2.2 0M144.9 200.1a1.1 1.1 0 1 0 2.2 0a1.1 1.1 0 1 0 -2.2 0M147.8 197.5a1.1 1.1 0 1 0 2.2 0a1.1 1.1 0 1 0 -2.2 0M150.7 194.4a1.1 1.1 0 1 0 2.2 0a1.1 1.1 0 1 0 -2.2 0M153.6 192.4a1.1 1.1 0 1 0 2.2 0a1.1 1.1 0 1 0 -2.2 0M156.5 190.0a1.1 1.1 0 1 0 2.2 0a1.1 1.1 0 1 0 -2.2 0M159.4 188.2a1.1 1.1 0 1 0 2.2 0a1.1 1.1 0 1 0 -2.2 0M162.3 184.9a1.1 1.1 0 1 0 2.2 0a1.1 1.1 0 1 0 -2.2 0M165.2 182.3a1.1 1.1 0 1 0 2.2 0a1.1 1.1 0 1 0 -2.2 0M168.1 180.2a1.1 1.1 0 1 0 2.2 0a1.1 1.1 0 1 0 -2.2 0M171.0 177.8a1.1 1.1 0 1 0 2.2 0a1.1 1.1 0 1 0 -2.2 0M173.9 175.4a1.1 1.1 0 1 0 2.2 0a1.1 1.1 0 1 0 -2.2 0M176.8 173.2a1.1 1.1 0 1 0 2.2 0a1.1 1.1 0 1 0 -2.2 0M179.7 170.3a1.1 1.1 0 1 0 2.2 0a1.1 1.1 0 1 0 -2.2 0M182.6 167.4a1.1 1.1 0 1 0 2.2 0a1.1 1.1 0 1 0 -2.2 0M185.5 165.4a1.1 1.1 0 1 0 2.2 0a1.1 1.1 0 1 0 -2.2 0M188.4 162.9a1.1 1.1 0 1 0 2.2 0a1.1 1.1 0 1 0 -2.2 0M191.3 160.8a1.1 1.1 0 1 0 2.2 0a1.1 1.1 0 1 0 -2.2 0M194.2 158.3a1.1 1.1 0 1 0 2.2 0a1.1 1.1 0 1 0 -2.2 0M197.1 155.4a1.1 1.1 0 1 0 2.2 0a1.1 1.1 0 1 0 -2.2 0M200.0 153.4a1.1 1.1 0 1 0 2.2 0a1.1 1.1 0 1 0 -2.2 0M202.9 151.0a1.1 1.1 0 1 0 2.2 0a1.1 1.1 0 1 0 -2.2 0M205.8 148.2a1.1 1.1 0 1 0 2.2 0a1.1 1.1 0 1 0 -2.2 0M208.7 146.1a1.1 1.1 0 1 0 2.2 0a1.1 1.1 0 1 0 -2.2 0M211.6 143.5a1.1 1.1 0 1 0 2.2 0a1.1 1.1 0 1 0 -2.2 0M214.5 141.1a1.1 1.1 0 1 0 2.2 0a1.1 1.1 0 1 0 -2.2 0M217.4 138.5a1.1 1.1 0 1 0 2.2 0a1.1 1.1 0 1 0 -2.2 0M220.3 136.4a1.1 1.1 0 1 0 2.2 0a1.1 1.1 0 1 0 -2.2 0M223.2 134.6a1.1 1.1 0 1 0 2.2 0a1.1 1.1 0 1 0 -2.2 0M226.1 131.4a1.1 1.1 0 1 0 2.2 0a1.1 1.1 0 1 0 -2.2 0M229.0 128.6a1.1 1.1 0 1 0 2.2 0a1.1 1.1 0 1 0 -2.2 0M231.9 126.4a1.1 1.1 0 1 0 2.2 0a1.1 1.1 0 1 0 -2.2 0M234.8 123.9a1.1 1.1 0 1 0 2.2 0a1.1 1.1 0 1 0 -2.2 0M237.7 121.8a1.1 1.1 0 1 0 2.2 0a1.1 1.1 0 1 0 -2.2 0M240.6 119.3a1.1 1.1 0 1 0 2.2 0a1.1 1.1 0 1 0 -2.2 0M243.5 117.7a1.1 1.1 0 1 0 2.2 0a1.1 1.1 0 1 0 -2.2 0M246.4 114.7a1.1 1.1 0 1 0 2.2 0a1.1 1.1 0 1 0 -2.2 0M249.3 112.7a1.1 1.1 0 1 0 2.2 0a1.1 1.1 0 1 0 -2.2 0M252.2 109.5a1.1 1.1 0 1 0 2.2 0a1.1 1.1 0 1 0 -2.2 0M223.9 133.4a1.1 1.1 0 1 0 2.2 0a1.1 1.1 0 1 0 -2.2 0M225.7 133.6a1.1 1.1 0 1 0 2.2 0a1.1 1.1 0 1 0 -2.2 0M227.5 132.0a1.1 1.1 0 1 0 2.2 0a1.1 1.1 0 1 0 -2.2 0M229.3 130.8a1.1 1.1 0 1 0 2.2 0a1.1 1.1 0 1 0 -2.2 0M231.1 130.1a1.1 1.1 0 1 0 2.2 0a1.1 1.1 0 1 0 -2.2 0M232.9 129.1a1.1 1.1 0 1 0 2.2 0a1.1 1.1 0 1 0 -2.2 0M234.7 126.1a1.1 1.1 0 1 0 2.2 0a1.1 1.1 0 1 0 -2.2 0M236.5 125.8a1.1 1.1 0 1 0 2.2 0a1.1 1.1 0 1 0 -2.2 0M238.3 121.2a1.1 1.1 0 1 0 2.2 0a1.1 1.1 0 1 0 -2.2 0M240.1 120.5a1.1 1.1 0 1 0 2.2 0a1.1 1.1 0 1 0 -2.2 0M241.9 119.1a1.1 1.1 0 1 0 2.2 0a1.1 1.1 0 1 0 -2.2 0M243.7 118.2a1.1 1.1 0 1 0 2.2 0a1.1 1.1 0 1 0 -2.2 0M245.5 118.6a1.1 1.1 0 1 0 2.2 0a1.1 1.1 0 1 0 -2.2 0M247.3 114.3a1.1 1.1 0 1 0 2.2 0a1.1 1.1 0 1 0 -2.2 0M249.1 115.4a1.1 1.1 0 1 0 2.2 0a1.1 1.1 0 1 0 -2.2 0M250.9 111.2a1.1 1.1 0 1 0 2.2 0a1.1 1.1 0 1 0 -2.2 0M252.7 109.7a1.1 1.1 0 1 0 2.2 0a1.1 1.1 0 1 0 -2.2 0" fill="none" stroke="#c22cff" stroke-width="1.0"/><path d="M253.9 101.8a1.2 1.2 0 1 0 2.4 0a1.2 1.2 0 1 0 -2.4 0M257.2 101.9a1.2 1.2 0 1 0 2.4 0a1.2 1.2 0 1 0 -2.4 0M260.1 102.5a1.2 1.2 0 1 0 2.4 0a1.2 1.2 0 1 0 -2.4 0M262.9 101.4a1.2 1.2 0 1 0 2.4 0a1.2 1.2 0 1 0 -2.4 0M265.9 102.3a1.2 1.2 0 1 0 2.4 0a1.2 1.2 0 1 0 -2.4 0M269.0 102.2a1.2 1.2 0 1 0 2.4 0a1.2 1.2 0 1 0 -2.4 0M271.6 102.4a1.2 1.2 0 1 0 2.4 0a1.2 1.2 0 1 0 -2.4 0M274.7 103.0a1.2 1.2 0 1 0 2.4 0a1.2 1.2 0 1 0 -2.4 0M277.2 102.5a1.2 1.2 0 1 0 2.4 0a1.2 1.2 0 1 0 -2.4 0M280.2 102.3a1.2 1.2 0 1 0 2.4 0a1.2 1.2 0 1 0 -2.4 0M283.2 102.7a1.2 1.2 0 1 0 2.4 0a1.2 1.2 0 1 0 -2.4 0M286.3 103.4a1.2 1.2 0 1 0 2.4 0a1.2 1.2 0 1 0 -2.4 0M289.2 102.8a1.2 1.2 0 1 0 2.4 0a1.2 1.2 0 1 0 -2.4 0M254.6 104.7a1.2 1.2 0 1 0 2.4 0a1.2 1.2 0 1 0 -2.4 0M257.5 104.9a1.2 1.2 0 1 0 2.4 0a1.2 1.2 0 1 0 -2.4 0M260.5 105.3a1.2 1.2 0 1 0 2.4 0a1.2 1.2 0 1 0 -2.4 0M263.2 104.1a1.2 1.2 0 1 0 2.4 0a1.2 1.2 0 1 0 -2.4 0M265.9 105.0a1.2 1.2 0 1 0 2.4 0a1.2 1.2 0 1 0 -2.4 0M269.3 104.7a1.2 1.2 0 1 0 2.4 0a1.2 1.2 0 1 0 -2.4 0M272.0 104.7a1.2 1.2 0 1 0 2.4 0a1.2 1.2 0 1 0 -2.4 0M275.0 104.9a1.2 1.2 0 1 0 2.4 0a1.2 1.2 0 1 0 -2.4 0M278.3 105.3a1.2 1.2 0 1 0 2.4 0a1.2 1.2 0 1 0 -2.4 0M280.6 105.6a1.2 1.2 0 1 0 2.4 0a1.2 1.2 0 1 0 -2.4 0M283.9 105.0a1.2 1.2 0 1 0 2.4 0a1.2 1.2 0 1 0 -2.4 0M286.1 105.2a1.2 1.2 0 1 0 2.4 0a1.2 1.2 0 1 0 -2.4 0M289.3 105.9a1.2 1.2 0 1 0 2.4 0a1.2 1.2 0 1 0 -2.4 0M254.0 107.4a1.2 1.2 0 1 0 2.4 0a1.2 1.2 0 1 0 -2.4 0M256.6 107.1a1.2 1.2 0 1 0 2.4 0a1.2 1.2 0 1 0 -2.4 0M260.0 107.6a1.2 1.2 0 1 0 2.4 0a1.2 1.2 0 1 0 -2.4 0M262.4 107.2a1.2 1.2 0 1 0 2.4 0a1.2 1.2 0 1 0 -2.4 0M265.7 108.0a1.2 1.2 0 1 0 2.4 0a1.2 1.2 0 1 0 -2.4 0M268.4 107.3a1.2 1.2 0 1 0 2.4 0a1.2 1.2 0 1 0 -2.4 0M271.1 108.1a1.2 1.2 0 1 0 2.4 0a1.2 1.2 0 1 0 -2.4 0M274.3 108.3a1.2 1.2 0 1 0 2.4 0a1.2 1.2 0 1 0 -2.4 0M277.5 107.8a1.2 1.2 0 1 0 2.4 0a1.2 1.2 0 1 0 -2.4 0M280.1 107.6a1.2 1.2 0 1 0 2.4 0a1.2 1.2 0 1 0 -2.4 0M283.2 108.1a1.2 1.2 0 1 0 2.4 0a1.2 1.2 0 1 0 -2.4 0M285.9 107.8a1.2 1.2 0 1 0 2.4 0a1.2 1.2 0 1 0 -2.4 0M288.7 107.8a1.2 1.2 0 1 0 2.4 0a1.2 1.2 0 1 0 -2.4 0M254.0 109.4a1.2 1.2 0 1 0 2.4 0a1.2 1.2 0 1 0 -2.4 0M257.1 109.8a1.2 1.2 0 1 0 2.4 0a1.2 1.2 0 1 0 -2.4 0M260.1 109.9a1.2 1.2 0 1 0 2.4 0a1.2 1.2 0 1 0 -2.4 0M262.7 109.9a1.2 1.2 0 1 0 2.4 0a1.2 1.2 0 1 0 -2.4 0M265.5 110.2a1.2 1.2 0 1 0 2.4 0a1.2 1.2 0 1 0 -2.4 0M268.6 110.4a1.2 1.2 0 1 0 2.4 0a1.2 1.2 0 1 0 -2.4 0M271.2 110.2a1.2 1.2 0 1 0 2.4 0a1.2 1.2 0 1 0 -2.4 0M277.6 110.3a1.2 1.2 0 1 0 2.4 0a1.2 1.2 0 1 0 -2.4 0M280.0 109.7a1.2 1.2 0 1 0 2.4 0a1.2 1.2 0 1 0 -2.4 0M283.4 110.7a1.2 1.2 0 1 0 2.4 0a1.2 1.2 0 1 0 -2.4 0M286.0 110.4a1.2 1.2 0 1 0 2.4 0a1.2 1.2 0 1 0 -2.4 0M289.5 110.6a1.2 1.2 0 1 0 2.4 0a1.2 1.2 0 1 0 -2.4 0" fill="none" stroke="#c22cff" stroke-width="0.9"/><path d="M43.4 290.8a1.1 1.1 0 1 0 2.2 0a1.1 1.1 0 1 0 -2.2 0M46.3 287.6a1.1 1.1 0 1 0 2.2 0a1.1 1.1 0 1 0 -2.2 0M49.2 285.5a1.1 1.1 0 1 0 2.2 0a1.1 1.1 0 1 0 -2.2 0M52.1 282.2a1.1 1.1 0 1 0 2.2 0a1.1 1.1 0 1 0 -2.2 0M55.0 279.8a1.1 1.1 0 1 0 2.2 0a1.1 1.1 0 1 0 -2.2 0M57.9 277.5a1.1 1.1 0 1 0 2.2 0a1.1 1.1 0 1 0 -2.2 0M60.8 274.7a1.1 1.1 0 1 0 2.2 0a1.1 1.1 0 1 0 -2.2 0M63.7 272.2a1.1 1.1 0 1 0 2.2 0a1.1 1.1 0 1 0 -2.2 0M66.6 269.7a1.1 1.1 0 1 0 2.2 0a1.1 1.1 0 1 0 -2.2 0M69.5 267.0a1.1 1.1 0 1 0 2.2 0a1.1 1.1 0 1 0 -2.2 0M72.4 265.1a1.1 1.1 0 1 0 2.2 0a1.1 1.1 0 1 0 -2.2 0M75.3 262.4a1.1 1.1 0 1 0 2.2 0a1.1 1.1 0 1 0 -2.2 0M78.2 259.1a1.1 1.1 0 1 0 2.2 0a1.1 1.1 0 1 0 -2.2 0M81.1 257.5a1.1 1.1 0 1 0 2.2 0a1.1 1.1 0 1 0 -2.2 0M84.0 254.5a1.1 1.1 0 1 0 2.2 0a1.1 1.1 0 1 0 -2.2 0M86.9 251.9a1.1 1.1 0 1 0 2.2 0a1.1 1.1 0 1 0 -2.2 0M89.8 249.4a1.1 1.1 0 1 0 2.2 0a1.1 1.1 0 1 0 -2.2 0M92.7 247.2a1.1 1.1 0 1 0 2.2 0a1.1 1.1 0 1 0 -2.2 0M95.6 244.6a1.1 1.1 0 1 0 2.2 0a1.1 1.1 0 1 0 -2.2 0M98.5 241.7a1.1 1.1 0 1 0 2.2 0a1.1 1.1 0 1 0 -2.2 0M101.4 239.3a1.1 1.1 0 1 0 2.2 0a1.1 1.1 0 1 0 -2.2 0M104.3 236.4a1.1 1.1 0 1 0 2.2 0a1.1 1.1 0 1 0 -2.2 0M107.2 234.9a1.1 1.1 0 1 0 2.2 0a1.1 1.1 0 1 0 -2.2 0M110.1 231.5a1.1 1.1 0 1 0 2.2 0a1.1 1.1 0 1 0 -2.2 0M113.0 229.0a1.1 1.1 0 1 0 2.2 0a1.1 1.1 0 1 0 -2.2 0M115.9 226.6a1.1 1.1 0 1 0 2.2 0a1.1 1.1 0 1 0 -2.2 0M118.8 224.3a1.1 1.1 0 1 0 2.2 0a1.1 1.1 0 1 0 -2.2 0M121.7 222.0a1.1 1.1 0 1 0 2.2 0a1.1 1.1 0 1 0 -2.2 0M124.6 219.2a1.1 1.1 0 1 0 2.2 0a1.1 1.1 0 1 0 -2.2 0M127.5 216.8a1.1 1.1 0 1 0 2.2 0a1.1 1.1 0 1 0 -2.2 0M130.4 214.2a1.1 1.1 0 1 0 2.2 0a1.1 1.1 0 1 0 -2.2 0M133.3 212.2a1.1 1.1 0 1 0 2.2 0a1.1 1.1 0 1 0 -2.2 0M136.2 209.4a1.1 1.1 0 1 0 2.2 0a1.1 1.1 0 1 0 -2.2 0M139.1 206.3a1.1 1.1 0 1 0 2.2 0a1.1 1.1 0 1 0 -2.2 0M142.0 204.8a1.1 1.1 0 1 0 2.2 0a1.1 1.1 0 1 0 -2.2 0M144.9 201.9a1.1 1.1 0 1 0 2.2 0a1.1 1.1 0 1 0 -2.2 0M147.8 199.9a1.1 1.1 0 1 0 2.2 0a1.1 1.1 0 1 0 -2.2 0M150.7 196.7a1.1 1.1 0 1 0 2.2 0a1.1 1.1 0 1 0 -2.2 0M153.6 194.3a1.1 1.1 0 1 0 2.2 0a1.1 1.1 0 1 0 -2.2 0M156.5 191.9a1.1 1.1 0 1 0 2.2 0a1.1 1.1 0 1 0 -2.2 0M159.4 189.1a1.1 1.1 0 1 0 2.2 0a1.1 1.1 0 1 0 -2.2 0M162.3 186.9a1.1 1.1 0 1 0 2.2 0a1.1 1.1 0 1 0 -2.2 0M165.2 184.9a1.1 1.1 0 1 0 2.2 0a1.1 1.1 0 1 0 -2.2 0M168.1 182.3a1.1 1.1 0 1 0 2.2 0a1.1 1.1 0 1 0 -2.2 0M171.0 178.9a1.1 1.1 0 1 0 2.2 0a1.1 1.1 0 1 0 -2.2 0M173.9 177.6a1.1 1.1 0 1 0 2.2 0a1.1 1.1 0 1 0 -2.2 0M176.8 174.8a1.1 1.1 0 1 0 2.2 0a1.1 1.1 0 1 0 -2.2 0M179.7 172.5a1.1 1.1 0 1 0 2.2 0a1.1 1.1 0 1 0 -2.2 0M182.6 169.8a1.1 1.1 0 1 0 2.2 0a1.1 1.1 0 1 0 -2.2 0M185.5 167.4a1.1 1.1 0 1 0 2.2 0a1.1 1.1 0 1 0 -2.2 0M188.4 165.0a1.1 1.1 0 1 0 2.2 0a1.1 1.1 0 1 0 -2.2 0M191.3 162.5a1.1 1.1 0 1 0 2.2 0a1.1 1.1 0 1 0 -2.2 0M194.2 159.8a1.1 1.1 0 1 0 2.2 0a1.1 1.1 0 1 0 -2.2 0M197.1 158.0a1.1 1.1 0 1 0 2.2 0a1.1 1.1 0 1 0 -2.2 0M200.0 155.3a1.1 1.1 0 1 0 2.2 0a1.1 1.1 0 1 0 -2.2 0M202.9 152.9a1.1 1.1 0 1 0 2.2 0a1.1 1.1 0 1 0 -2.2 0M205.8 150.5a1.1 1.1 0 1 0 2.2 0a1.1 1.1 0 1 0 -2.2 0M208.7 147.8a1.1 1.1 0 1 0 2.2 0a1.1 1.1 0 1 0 -2.2 0M211.6 145.5a1.1 1.1 0 1 0 2.2 0a1.1 1.1 0 1 0 -2.2 0M214.5 142.7a1.1 1.1 0 1 0 2.2 0a1.1 1.1 0 1 0 -2.2 0M217.4 140.8a1.1 1.1 0 1 0 2.2 0a1.1 1.1 0 1 0 -2.2 0M220.3 138.4a1.1 1.1 0 1 0 2.2 0a1.1 1.1 0 1 0 -2.2 0M223.2 135.8a1.1 1.1 0 1 0 2.2 0a1.1 1.1 0 1 0 -2.2 0M226.1 132.9a1.1 1.1 0 1 0 2.2 0a1.1 1.1 0 1 0 -2.2 0M229.0 131.5a1.1 1.1 0 1 0 2.2 0a1.1 1.1 0 1 0 -2.2 0M231.9 128.6a1.1 1.1 0 1 0 2.2 0a1.1 1.1 0 1 0 -2.2 0M234.8 126.2a1.1 1.1 0 1 0 2.2 0a1.1 1.1 0 1 0 -2.2 0M237.7 123.8a1.1 1.1 0 1 0 2.2 0a1.1 1.1 0 1 0 -2.2 0M240.6 121.3a1.1 1.1 0 1 0 2.2 0a1.1 1.1 0 1 0 -2.2 0M243.5 118.9a1.1 1.1 0 1 0 2.2 0a1.1 1.1 0 1 0 -2.2 0M246.4 116.3a1.1 1.1 0 1 0 2.2 0a1.1 1.1 0 1 0 -2.2 0M249.3 114.1a1.1 1.1 0 1 0 2.2 0a1.1 1.1 0 1 0 -2.2 0M252.2 112.5a1.1 1.1 0 1 0 2.2 0a1.1 1.1 0 1 0 -2.2 0M252.9 112.2a1.1 1.1 0 1 0 2.2 0a1.1 1.1 0 1 0 -2.2 0M255.8 112.4a1.1 1.1 0 1 0 2.2 0a1.1 1.1 0 1 0 -2.2 0M258.7 111.6a1.1 1.1 0 1 0 2.2 0a1.1 1.1 0 1 0 -2.2 0M261.6 111.2a1.1 1.1 0 1 0 2.2 0a1.1 1.1 0 1 0 -2.2 0M264.5 111.4a1.1 1.1 0 1 0 2.2 0a1.1 1.1 0 1 0 -2.2 0" fill="none" stroke="#5a3cff" stroke-width="1.0"/><path d="M43.4 290.6a1.1 1.1 0 1 0 2.2 0a1.1 1.1 0 1 0 -2.2 0M46.3 289.2a1.1 1.1 0 1 0 2.2 0a1.1 1.1 0 1 0 -2.2 0M49.2 286.7a1.1 1.1 0 1 0 2.2 0a1.1 1.1 0 1 0 -2.2 0M52.1 283.8a1.1 1.1 0 1 0 2.2 0a1.1 1.1 0 1 0 -2.2 0M55.0 281.3a1.1 1.1 0 1 0 2.2 0a1.1 1.1 0 1 0 -2.2 0M57.9 278.7a1.1 1.1 0 1 0 2.2 0a1.1 1.1 0 1 0 -2.2 0M60.8 276.0a1.1 1.1 0 1 0 2.2 0a1.1 1.1 0 1 0 -2.2 0M63.7 273.7a1.1 1.1 0 1 0 2.2 0a1.1 1.1 0 1 0 -2.2 0M66.6 270.6a1.1 1.1 0 1 0 2.2 0a1.1 1.1 0 1 0 -2.2 0M69.5 268.3a1.1 1.1 0 1 0 2.2 0a1.1 1.1 0 1 0 -2.2 0M72.4 265.8a1.1 1.1 0 1 0 2.2 0a1.1 1.1 0 1 0 -2.2 0M75.3 262.8a1.1 1.1 0 1 0 2.2 0a1.1 1.1 0 1 0 -2.2 0M78.2 260.5a1.1 1.1 0 1 0 2.2 0a1.1 1.1 0 1 0 -2.2 0M81.1 258.4a1.1 1.1 0 1 0 2.2 0a1.1 1.1 0 1 0 -2.2 0M84.0 255.8a1.1 1.1 0 1 0 2.2 0a1.1 1.1 0 1 0 -2.2 0M86.9 252.4a1.1 1.1 0 1 0 2.2 0a1.1 1.1 0 1 0 -2.2 0M89.8 250.9a1.1 1.1 0 1 0 2.2 0a1.1 1.1 0 1 0 -2.2 0M92.7 248.2a1.1 1.1 0 1 0 2.2 0a1.1 1.1 0 1 0 -2.2 0M95.6 245.8a1.1 1.1 0 1 0 2.2 0a1.1 1.1 0 1 0 -2.2 0M98.5 243.0a1.1 1.1 0 1 0 2.2 0a1.1 1.1 0 1 0 -2.2 0M101.4 240.7a1.1 1.1 0 1 0 2.2 0a1.1 1.1 0 1 0 -2.2 0M104.3 237.6a1.1 1.1 0 1 0 2.2 0a1.1 1.1 0 1 0 -2.2 0M107.2 235.4a1.1 1.1 0 1 0 2.2 0a1.1 1.1 0 1 0 -2.2 0M110.1 232.7a1.1 1.1 0 1 0 2.2 0a1.1 1.1 0 1 0 -2.2 0M113.0 230.3a1.1 1.1 0 1 0 2.2 0a1.1 1.1 0 1 0 -2.2 0M115.9 228.3a1.1 1.1 0 1 0 2.2 0a1.1 1.1 0 1 0 -2.2 0M118.8 226.0a1.1 1.1 0 1 0 2.2 0a1.1 1.1 0 1 0 -2.2 0M121.7 223.0a1.1 1.1 0 1 0 2.2 0a1.1 1.1 0 1 0 -2.2 0M124.6 220.3a1.1 1.1 0 1 0 2.2 0a1.1 1.1 0 1 0 -2.2 0M127.5 218.2a1.1 1.1 0 1 0 2.2 0a1.1 1.1 0 1 0 -2.2 0M130.4 215.6a1.1 1.1 0 1 0 2.2 0a1.1 1.1 0 1 0 -2.2 0M133.3 213.6a1.1 1.1 0 1 0 2.2 0a1.1 1.1 0 1 0 -2.2 0M136.2 210.7a1.1 1.1 0 1 0 2.2 0a1.1 1.1 0 1 0 -2.2 0M139.1 207.3a1.1 1.1 0 1 0 2.2 0a1.1 1.1 0 1 0 -2.2 0M142.0 205.5a1.1 1.1 0 1 0 2.2 0a1.1 1.1 0 1 0 -2.2 0M144.9 202.9a1.1 1.1 0 1 0 2.2 0a1.1 1.1 0 1 0 -2.2 0M147.8 200.3a1.1 1.1 0 1 0 2.2 0a1.1 1.1 0 1 0 -2.2 0M150.7 198.1a1.1 1.1 0 1 0 2.2 0a1.1 1.1 0 1 0 -2.2 0M153.6 195.6a1.1 1.1 0 1 0 2.2 0a1.1 1.1 0 1 0 -2.2 0M156.5 193.0a1.1 1.1 0 1 0 2.2 0a1.1 1.1 0 1 0 -2.2 0M159.4 191.1a1.1 1.1 0 1 0 2.2 0a1.1 1.1 0 1 0 -2.2 0M162.3 188.3a1.1 1.1 0 1 0 2.2 0a1.1 1.1 0 1 0 -2.2 0M165.2 185.9a1.1 1.1 0 1 0 2.2 0a1.1 1.1 0 1 0 -2.2 0M168.1 183.3a1.1 1.1 0 1 0 2.2 0a1.1 1.1 0 1 0 -2.2 0M171.0 181.2a1.1 1.1 0 1 0 2.2 0a1.1 1.1 0 1 0 -2.2 0M173.9 178.0a1.1 1.1 0 1 0 2.2 0a1.1 1.1 0 1 0 -2.2 0M176.8 176.3a1.1 1.1 0 1 0 2.2 0a1.1 1.1 0 1 0 -2.2 0M179.7 173.4a1.1 1.1 0 1 0 2.2 0a1.1 1.1 0 1 0 -2.2 0M182.6 171.5a1.1 1.1 0 1 0 2.2 0a1.1 1.1 0 1 0 -2.2 0M185.5 169.0a1.1 1.1 0 1 0 2.2 0a1.1 1.1 0 1 0 -2.2 0M188.4 166.3a1.1 1.1 0 1 0 2.2 0a1.1 1.1 0 1 0 -2.2 0M191.3 163.6a1.1 1.1 0 1 0 2.2 0a1.1 1.1 0 1 0 -2.2 0M194.2 161.4a1.1 1.1 0 1 0 2.2 0a1.1 1.1 0 1 0 -2.2 0M197.1 158.9a1.1 1.1 0 1 0 2.2 0a1.1 1.1 0 1 0 -2.2 0M200.0 156.0a1.1 1.1 0 1 0 2.2 0a1.1 1.1 0 1 0 -2.2 0M202.9 153.9a1.1 1.1 0 1 0 2.2 0a1.1 1.1 0 1 0 -2.2 0M205.8 151.3a1.1 1.1 0 1 0 2.2 0a1.1 1.1 0 1 0 -2.2 0M208.7 149.5a1.1 1.1 0 1 0 2.2 0a1.1 1.1 0 1 0 -2.2 0M211.6 147.2a1.1 1.1 0 1 0 2.2 0a1.1 1.1 0 1 0 -2.2 0M214.5 144.1a1.1 1.1 0 1 0 2.2 0a1.1 1.1 0 1 0 -2.2 0M217.4 141.7a1.1 1.1 0 1 0 2.2 0a1.1 1.1 0 1 0 -2.2 0M220.3 139.1a1.1 1.1 0 1 0 2.2 0a1.1 1.1 0 1 0 -2.2 0M223.2 137.1a1.1 1.1 0 1 0 2.2 0a1.1 1.1 0 1 0 -2.2 0M226.1 134.9a1.1 1.1 0 1 0 2.2 0a1.1 1.1 0 1 0 -2.2 0M229.0 132.8a1.1 1.1 0 1 0 2.2 0a1.1 1.1 0 1 0 -2.2 0M231.9 129.5a1.1 1.1 0 1 0 2.2 0a1.1 1.1 0 1 0 -2.2 0M234.8 127.7a1.1 1.1 0 1 0 2.2 0a1.1 1.1 0 1 0 -2.2 0M237.7 125.0a1.1 1.1 0 1 0 2.2 0a1.1 1.1 0 1 0 -2.2 0M240.6 122.4a1.1 1.1 0 1 0 2.2 0a1.1 1.1 0 1 0 -2.2 0M243.5 120.2a1.1 1.1 0 1 0 2.2 0a1.1 1.1 0 1 0 -2.2 0M246.4 117.6a1.1 1.1 0 1 0 2.2 0a1.1 1.1 0 1 0 -2.2 0M249.3 115.6a1.1 1.1 0 1 0 2.2 0a1.1 1.1 0 1 0 -2.2 0M252.2 113.1a1.1 1.1 0 1 0 2.2 0a1.1 1.1 0 1 0 -2.2 0M252.9 116.2a1.1 1.1 0 1 0 2.2 0a1.1 1.1 0 1 0 -2.2 0M255.5 115.8a1.1 1.1 0 1 0 2.2 0a1.1 1.1 0 1 0 -2.2 0M258.1 115.5a1.1 1.1 0 1 0 2.2 0a1.1 1.1 0 1 0 -2.2 0M260.7 115.9a1.1 1.1 0 1 0 2.2 0a1.1 1.1 0 1 0 -2.2 0M263.3 116.4a1.1 1.1 0 1 0 2.2 0a1.1 1.1 0 1 0 -2.2 0M265.9 116.0a1.1 1.1 0 1 0 2.2 0a1.1 1.1 0 1 0 -2.2 0M268.5 116.3a1.1 1.1 0 1 0 2.2 0a1.1 1.1 0 1 0 -2.2 0M271.1 116.8a1.1 1.1 0 1 0 2.2 0a1.1 1.1 0 1 0 -2.2 0M273.7 116.3a1.1 1.1 0 1 0 2.2 0a1.1 1.1 0 1 0 -2.2 0M276.3 117.1a1.1 1.1 0 1 0 2.2 0a1.1 1.1 0 1 0 -2.2 0M278.9 117.1a1.1 1.1 0 1 0 2.2 0a1.1 1.1 0 1 0 -2.2 0M281.5 116.9a1.1 1.1 0 1 0 2.2 0a1.1 1.1 0 1 0 -2.2 0M284.1 117.2a1.1 1.1 0 1 0 2.2 0a1.1 1.1 0 1 0 -2.2 0M286.7 117.2a1.1 1.1 0 1 0 2.2 0a1.1 1.1 0 1 0 -2.2 0M289.3 117.3a1.1 1.1 0 1 0 2.2 0a1.1 1.1 0 1 0 -2.2 0M291.9 117.5a1.1 1.1 0 1 0 2.2 0a1.1 1.1 0 1 0 -2.2 0M294.5 117.7a1.1 1.1 0 1 0 2.2 0a1.1 1.1 0 1 0 -2.2 0" fill="none" stroke="#1e8cff" stroke-width="1.0"/><path d="M43.4 287.8a1.1 1.1 0 1 0 2.2 0a1.1 1.1 0 1 0 -2.2 0M46.3 285.4a1.1 1.1 0 1 0 2.2 0a1.1 1.1 0 1 0 -2.2 0M49.2 283.1a1.1 1.1 0 1 0 2.2 0a1.1 1.1 0 1 0 -2.2 0M52.1 281.7a1.1 1.1 0 1 0 2.2 0a1.1 1.1 0 1 0 -2.2 0M55.0 278.5a1.1 1.1 0 1 0 2.2 0a1.1 1.1 0 1 0 -2.2 0M57.9 276.6a1.1 1.1 0 1 0 2.2 0a1.1 1.1 0 1 0 -2.2 0M60.8 274.8a1.1 1.1 0 1 0 2.2 0a1.1 1.1 0 1 0 -2.2 0M63.7 272.5a1.1 1.1 0 1 0 2.2 0a1.1 1.1 0 1 0 -2.2 0M66.6 269.7a1.1 1.1 0 1 0 2.2 0a1.1 1.1 0 1 0 -2.2 0M69.5 268.3a1.1 1.1 0 1 0 2.2 0a1.1 1.1 0 1 0 -2.2 0M72.4 266.0a1.1 1.1 0 1 0 2.2 0a1.1 1.1 0 1 0 -2.2 0M75.3 263.2a1.1 1.1 0 1 0 2.2 0a1.1 1.1 0 1 0 -2.2 0M78.2 260.7a1.1 1.1 0 1 0 2.2 0a1.1 1.1 0 1 0 -2.2 0M81.1 259.1a1.1 1.1 0 1 0 2.2 0a1.1 1.1 0 1 0 -2.2 0M84.0 256.6a1.1 1.1 0 1 0 2.2 0a1.1 1.1 0 1 0 -2.2 0M86.9 254.4a1.1 1.1 0 1 0 2.2 0a1.1 1.1 0 1 0 -2.2 0M89.8 252.1a1.1 1.1 0 1 0 2.2 0a1.1 1.1 0 1 0 -2.2 0M92.7 249.9a1.1 1.1 0 1 0 2.2 0a1.1 1.1 0 1 0 -2.2 0M95.6 248.0a1.1 1.1 0 1 0 2.2 0a1.1 1.1 0 1 0 -2.2 0M98.5 246.0a1.1 1.1 0 1 0 2.2 0a1.1 1.1 0 1 0 -2.2 0M101.4 243.0a1.1 1.1 0 1 0 2.2 0a1.1 1.1 0 1 0 -2.2 0M104.3 240.7a1.1 1.1 0 1 0 2.2 0a1.1 1.1 0 1 0 -2.2 0M107.2 239.5a1.1 1.1 0 1 0 2.2 0a1.1 1.1 0 1 0 -2.2 0M110.1 236.8a1.1 1.1 0 1 0 2.2 0a1.1 1.1 0 1 0 -2.2 0M113.0 235.1a1.1 1.1 0 1 0 2.2 0a1.1 1.1 0 1 0 -2.2 0M115.9 232.8a1.1 1.1 0 1 0 2.2 0a1.1 1.1 0 1 0 -2.2 0M118.8 231.0a1.1 1.1 0 1 0 2.2 0a1.1 1.1 0 1 0 -2.2 0M121.7 228.8a1.1 1.1 0 1 0 2.2 0a1.1 1.1 0 1 0 -2.2 0M124.6 226.3a1.1 1.1 0 1 0 2.2 0a1.1 1.1 0 1 0 -2.2 0M127.5 224.2a1.1 1.1 0 1 0 2.2 0a1.1 1.1 0 1 0 -2.2 0M130.4 222.2a1.1 1.1 0 1 0 2.2 0a1.1 1.1 0 1 0 -2.2 0M133.3 220.2a1.1 1.1 0 1 0 2.2 0a1.1 1.1 0 1 0 -2.2 0M136.2 217.6a1.1 1.1 0 1 0 2.2 0a1.1 1.1 0 1 0 -2.2 0M139.1 215.3a1.1 1.1 0 1 0 2.2 0a1.1 1.1 0 1 0 -2.2 0M142.0 213.6a1.1 1.1 0 1 0 2.2 0a1.1 1.1 0 1 0 -2.2 0M144.9 211.5a1.1 1.1 0 1 0 2.2 0a1.1 1.1 0 1 0 -2.2 0M147.8 209.3a1.1 1.1 0 1 0 2.2 0a1.1 1.1 0 1 0 -2.2 0M150.7 207.0a1.1 1.1 0 1 0 2.2 0a1.1 1.1 0 1 0 -2.2 0M153.6 205.4a1.1 1.1 0 1 0 2.2 0a1.1 1.1 0 1 0 -2.2 0M156.5 202.6a1.1 1.1 0 1 0 2.2 0a1.1 1.1 0 1 0 -2.2 0M159.4 200.8a1.1 1.1 0 1 0 2.2 0a1.1 1.1 0 1 0 -2.2 0M162.3 199.3a1.1 1.1 0 1 0 2.2 0a1.1 1.1 0 1 0 -2.2 0M165.2 196.5a1.1 1.1 0 1 0 2.2 0a1.1 1.1 0 1 0 -2.2 0M168.1 194.9a1.1 1.1 0 1 0 2.2 0a1.1 1.1 0 1 0 -2.2 0M171.0 192.8a1.1 1.1 0 1 0 2.2 0a1.1 1.1 0 1 0 -2.2 0M173.9 190.7a1.1 1.1 0 1 0 2.2 0a1.1 1.1 0 1 0 -2.2 0M176.8 188.0a1.1 1.1 0 1 0 2.2 0a1.1 1.1 0 1 0 -2.2 0M179.7 186.8a1.1 1.1 0 1 0 2.2 0a1.1 1.1 0 1 0 -2.2 0M182.6 184.5a1.1 1.1 0 1 0 2.2 0a1.1 1.1 0 1 0 -2.2 0M185.5 182.5a1.1 1.1 0 1 0 2.2 0a1.1 1.1 0 1 0 -2.2 0M188.4 180.4a1.1 1.1 0 1 0 2.2 0a1.1 1.1 0 1 0 -2.2 0M191.3 178.3a1.1 1.1 0 1 0 2.2 0a1.1 1.1 0 1 0 -2.2 0M194.2 176.6a1.1 1.1 0 1 0 2.2 0a1.1 1.1 0 1 0 -2.2 0M197.1 174.6a1.1 1.1 0 1 0 2.2 0a1.1 1.1 0 1 0 -2.2 0M200.0 171.6a1.1 1.1 0 1 0 2.2 0a1.1 1.1 0 1 0 -2.2 0M202.9 169.9a1.1 1.1 0 1 0 2.2 0a1.1 1.1 0 1 0 -2.2 0M205.8 168.1a1.1 1.1 0 1 0 2.2 0a1.1 1.1 0 1 0 -2.2 0M208.7 165.4a1.1 1.1 0 1 0 2.2 0a1.1 1.1 0 1 0 -2.2 0M211.6 164.5a1.1 1.1 0 1 0 2.2 0a1.1 1.1 0 1 0 -2.2 0M214.5 161.8a1.1 1.1 0 1 0 2.2 0a1.1 1.1 0 1 0 -2.2 0M217.4 160.2a1.1 1.1 0 1 0 2.2 0a1.1 1.1 0 1 0 -2.2 0M220.3 158.1a1.1 1.1 0 1 0 2.2 0a1.1 1.1 0 1 0 -2.2 0M223.2 156.0a1.1 1.1 0 1 0 2.2 0a1.1 1.1 0 1 0 -2.2 0M226.1 153.7a1.1 1.1 0 1 0 2.2 0a1.1 1.1 0 1 0 -2.2 0M229.0 152.0a1.1 1.1 0 1 0 2.2 0a1.1 1.1 0 1 0 -2.2 0M231.9 150.1a1.1 1.1 0 1 0 2.2 0a1.1 1.1 0 1 0 -2.2 0M234.8 148.3a1.1 1.1 0 1 0 2.2 0a1.1 1.1 0 1 0 -2.2 0M237.7 146.0a1.1 1.1 0 1 0 2.2 0a1.1 1.1 0 1 0 -2.2 0M240.6 144.0a1.1 1.1 0 1 0 2.2 0a1.1 1.1 0 1 0 -2.2 0M243.5 142.1a1.1 1.1 0 1 0 2.2 0a1.1 1.1 0 1 0 -2.2 0M246.4 140.6a1.1 1.1 0 1 0 2.2 0a1.1 1.1 0 1 0 -2.2 0M249.3 138.3a1.1 1.1 0 1 0 2.2 0a1.1 1.1 0 1 0 -2.2 0M252.2 136.1a1.1 1.1 0 1 0 2.2 0a1.1 1.1 0 1 0 -2.2 0M252.9 135.4a1.1 1.1 0 1 0 2.2 0a1.1 1.1 0 1 0 -2.2 0M255.5 135.8a1.1 1.1 0 1 0 2.2 0a1.1 1.1 0 1 0 -2.2 0M258.1 135.7a1.1 1.1 0 1 0 2.2 0a1.1 1.1 0 1 0 -2.2 0M260.7 136.0a1.1 1.1 0 1 0 2.2 0a1.1 1.1 0 1 0 -2.2 0M263.3 136.6a1.1 1.1 0 1 0 2.2 0a1.1 1.1 0 1 0 -2.2 0M265.9 136.5a1.1 1.1 0 1 0 2.2 0a1.1 1.1 0 1 0 -2.2 0M268.5 136.5a1.1 1.1 0 1 0 2.2 0a1.1 1.1 0 1 0 -2.2 0M271.1 136.7a1.1 1.1 0 1 0 2.2 0a1.1 1.1 0 1 0 -2.2 0M273.7 137.2a1.1 1.1 0 1 0 2.2 0a1.1 1.1 0 1 0 -2.2 0M276.3 136.4a1.1 1.1 0 1 0 2.2 0a1.1 1.1 0 1 0 -2.2 0M278.9 137.0a1.1 1.1 0 1 0 2.2 0a1.1 1.1 0 1 0 -2.2 0M281.5 136.9a1.1 1.1 0 1 0 2.2 0a1.1 1.1 0 1 0 -2.2 0M284.1 137.1a1.1 1.1 0 1 0 2.2 0a1.1 1.1 0 1 0 -2.2 0M286.7 137.2a1.1 1.1 0 1 0 2.2 0a1.1 1.1 0 1 0 -2.2 0M289.3 137.2a1.1 1.1 0 1 0 2.2 0a1.1 1.1 0 1 0 -2.2 0M291.9 137.5a1.1 1.1 0 1 0 2.2 0a1.1 1.1 0 1 0 -2.2 0" fill="none" stroke="#14b414" stroke-width="1.0"/><path d="M43.4 287.3a1.1 1.1 0 1 0 2.2 0a1.1 1.1 0 1 0 -2.2 0M46.3 285.9a1.1 1.1 0 1 0 2.2 0a1.1 1.1 0 1 0 -2.2 0M49.2 283.8a1.1 1.1 0 1 0 2.2 0a1.1 1.1 0 1 0 -2.2 0M52.1 281.2a1.1 1.1 0 1 0 2.2 0a1.1 1.1 0 1 0 -2.2 0M55.0 279.0a1.1 1.1 0 1 0 2.2 0a1.1 1.1 0 1 0 -2.2 0M57.9 277.7a1.1 1.1 0 1 0 2.2 0a1.1 1.1 0 1 0 -2.2 0M60.8 274.7a1.1 1.1 0 1 0 2.2 0a1.1 1.1 0 1 0 -2.2 0M63.7 272.7a1.1 1.1 0 1 0 2.2 0a1.1 1.1 0 1 0 -2.2 0M66.6 270.5a1.1 1.1 0 1 0 2.2 0a1.1 1.1 0 1 0 -2.2 0M69.5 268.4a1.1 1.1 0 1 0 2.2 0a1.1 1.1 0 1 0 -2.2 0M72.4 266.2a1.1 1.1 0 1 0 2.2 0a1.1 1.1 0 1 0 -2.2 0M75.3 263.6a1.1 1.1 0 1 0 2.2 0a1.1 1.1 0 1 0 -2.2 0M78.2 262.8a1.1 1.1 0 1 0 2.2 0a1.1 1.1 0 1 0 -2.2 0M81.1 259.7a1.1 1.1 0 1 0 2.2 0a1.1 1.1 0 1 0 -2.2 0M84.0 257.9a1.1 1.1 0 1 0 2.2 0a1.1 1.1 0 1 0 -2.2 0M86.9 255.6a1.1 1.1 0 1 0 2.2 0a1.1 1.1 0 1 0 -2.2 0M89.8 253.9a1.1 1.1 0 1 0 2.2 0a1.1 1.1 0 1 0 -2.2 0M92.7 251.5a1.1 1.1 0 1 0 2.2 0a1.1 1.1 0 1 0 -2.2 0M95.6 249.5a1.1 1.1 0 1 0 2.2 0a1.1 1.1 0 1 0 -2.2 0M98.5 247.4a1.1 1.1 0 1 0 2.2 0a1.1 1.1 0 1 0 -2.2 0M101.4 245.2a1.1 1.1 0 1 0 2.2 0a1.1 1.1 0 1 0 -2.2 0M104.3 242.9a1.1 1.1 0 1 0 2.2 0a1.1 1.1 0 1 0 -2.2 0M107.2 241.1a1.1 1.1 0 1 0 2.2 0a1.1 1.1 0 1 0 -2.2 0M110.1 238.3a1.1 1.1 0 1 0 2.2 0a1.1 1.1 0 1 0 -2.2 0M113.0 237.0a1.1 1.1 0 1 0 2.2 0a1.1 1.1 0 1 0 -2.2 0M115.9 234.9a1.1 1.1 0 1 0 2.2 0a1.1 1.1 0 1 0 -2.2 0M118.8 232.7a1.1 1.1 0 1 0 2.2 0a1.1 1.1 0 1 0 -2.2 0M121.7 230.2a1.1 1.1 0 1 0 2.2 0a1.1 1.1 0 1 0 -2.2 0M124.6 228.9a1.1 1.1 0 1 0 2.2 0a1.1 1.1 0 1 0 -2.2 0M127.5 226.3a1.1 1.1 0 1 0 2.2 0a1.1 1.1 0 1 0 -2.2 0M130.4 224.6a1.1 1.1 0 1 0 2.2 0a1.1 1.1 0 1 0 -2.2 0M133.3 221.8a1.1 1.1 0 1 0 2.2 0a1.1 1.1 0 1 0 -2.2 0M136.2 220.3a1.1 1.1 0 1 0 2.2 0a1.1 1.1 0 1 0 -2.2 0M139.1 218.1a1.1 1.1 0 1 0 2.2 0a1.1 1.1 0 1 0 -2.2 0M142.0 216.2a1.1 1.1 0 1 0 2.2 0a1.1 1.1 0 1 0 -2.2 0M144.9 214.3a1.1 1.1 0 1 0 2.2 0a1.1 1.1 0 1 0 -2.2 0M147.8 213.2a1.1 1.1 0 1 0 2.2 0a1.1 1.1 0 1 0 -2.2 0M150.7 210.8a1.1 1.1 0 1 0 2.2 0a1.1 1.1 0 1 0 -2.2 0M153.6 209.0a1.1 1.1 0 1 0 2.2 0a1.1 1.1 0 1 0 -2.2 0M156.5 207.7a1.1 1.1 0 1 0 2.2 0a1.1 1.1 0 1 0 -2.2 0M159.4 204.7a1.1 1.1 0 1 0 2.2 0a1.1 1.1 0 1 0 -2.2 0M162.3 203.7a1.1 1.1 0 1 0 2.2 0a1.1 1.1 0 1 0 -2.2 0M165.2 201.3a1.1 1.1 0 1 0 2.2 0a1.1 1.1 0 1 0 -2.2 0M168.1 199.3a1.1 1.1 0 1 0 2.2 0a1.1 1.1 0 1 0 -2.2 0M171.0 197.4a1.1 1.1 0 1 0 2.2 0a1.1 1.1 0 1 0 -2.2 0M173.9 195.0a1.1 1.1 0 1 0 2.2 0a1.1 1.1 0 1 0 -2.2 0M176.8 193.1a1.1 1.1 0 1 0 2.2 0a1.1 1.1 0 1 0 -2.2 0M179.7 191.3a1.1 1.1 0 1 0 2.2 0a1.1 1.1 0 1 0 -2.2 0M182.6 189.5a1.1 1.1 0 1 0 2.2 0a1.1 1.1 0 1 0 -2.2 0M185.5 187.8a1.1 1.1 0 1 0 2.2 0a1.1 1.1 0 1 0 -2.2 0M188.4 186.0a1.1 1.1 0 1 0 2.2 0a1.1 1.1 0 1 0 -2.2 0M191.3 183.5a1.1 1.1 0 1 0 2.2 0a1.1 1.1 0 1 0 -2.2 0M194.2 181.8a1.1 1.1 0 1 0 2.2 0a1.1 1.1 0 1 0 -2.2 0M197.1 179.8a1.1 1.1 0 1 0 2.2 0a1.1 1.1 0 1 0 -2.2 0M200.0 177.6a1.1 1.1 0 1 0 2.2 0a1.1 1.1 0 1 0 -2.2 0M202.9 175.8a1.1 1.1 0 1 0 2.2 0a1.1 1.1 0 1 0 -2.2 0M205.8 173.5a1.1 1.1 0 1 0 2.2 0a1.1 1.1 0 1 0 -2.2 0M208.7 171.9a1.1 1.1 0 1 0 2.2 0a1.1 1.1 0 1 0 -2.2 0M211.6 169.7a1.1 1.1 0 1 0 2.2 0a1.1 1.1 0 1 0 -2.2 0M214.5 167.8a1.1 1.1 0 1 0 2.2 0a1.1 1.1 0 1 0 -2.2 0M217.4 165.9a1.1 1.1 0 1 0 2.2 0a1.1 1.1 0 1 0 -2.2 0M220.3 163.8a1.1 1.1 0 1 0 2.2 0a1.1 1.1 0 1 0 -2.2 0M223.2 161.6a1.1 1.1 0 1 0 2.2 0a1.1 1.1 0 1 0 -2.2 0M226.1 159.6a1.1 1.1 0 1 0 2.2 0a1.1 1.1 0 1 0 -2.2 0M229.0 158.1a1.1 1.1 0 1 0 2.2 0a1.1 1.1 0 1 0 -2.2 0M231.9 156.1a1.1 1.1 0 1 0 2.2 0a1.1 1.1 0 1 0 -2.2 0M234.8 154.3a1.1 1.1 0 1 0 2.2 0a1.1 1.1 0 1 0 -2.2 0M237.7 152.6a1.1 1.1 0 1 0 2.2 0a1.1 1.1 0 1 0 -2.2 0M240.6 150.6a1.1 1.1 0 1 0 2.2 0a1.1 1.1 0 1 0 -2.2 0M243.5 149.1a1.1 1.1 0 1 0 2.2 0a1.1 1.1 0 1 0 -2.2 0M246.4 147.2a1.1 1.1 0 1 0 2.2 0a1.1 1.1 0 1 0 -2.2 0M249.3 145.0a1.1 1.1 0 1 0 2.2 0a1.1 1.1 0 1 0 -2.2 0M252.2 143.6a1.1 1.1 0 1 0 2.2 0a1.1 1.1 0 1 0 -2.2 0M252.9 144.2a1.1 1.1 0 1 0 2.2 0a1.1 1.1 0 1 0 -2.2 0M255.5 144.9a1.1 1.1 0 1 0 2.2 0a1.1 1.1 0 1 0 -2.2 0M258.1 145.0a1.1 1.1 0 1 0 2.2 0a1.1 1.1 0 1 0 -2.2 0M260.7 144.9a1.1 1.1 0 1 0 2.2 0a1.1 1.1 0 1 0 -2.2 0M263.3 145.3a1.1 1.1 0 1 0 2.2 0a1.1 1.1 0 1 0 -2.2 0M265.9 145.5a1.1 1.1 0 1 0 2.2 0a1.1 1.1 0 1 0 -2.2 0M268.5 145.4a1.1 1.1 0 1 0 2.2 0a1.1 1.1 0 1 0 -2.2 0M271.1 144.9a1.1 1.1 0 1 0 2.2 0a1.1 1.1 0 1 0 -2.2 0M273.7 145.6a1.1 1.1 0 1 0 2.2 0a1.1 1.1 0 1 0 -2.2 0M276.3 145.7a1.1 1.1 0 1 0 2.2 0a1.1 1.1 0 1 0 -2.2 0M278.9 146.0a1.1 1.1 0 1 0 2.2 0a1.1 1.1 0 1 0 -2.2 0" fill="none" stroke="#ff8a1e" stroke-width="1.0"/><path d="M43.4 288.1a1.1 1.1 0 1 0 2.2 0a1.1 1.1 0 1 0 -2.2 0M46.3 287.1a1.1 1.1 0 1 0 2.2 0a1.1 1.1 0 1 0 -2.2 0M49.2 285.4a1.1 1.1 0 1 0 2.2 0a1.1 1.1 0 1 0 -2.2 0M52.1 283.6a1.1 1.1 0 1 0 2.2 0a1.1 1.1 0 1 0 -2.2 0M55.0 283.7a1.1 1.1 0 1 0 2.2 0a1.1 1.1 0 1 0 -2.2 0M57.9 282.0a1.1 1.1 0 1 0 2.2 0a1.1 1.1 0 1 0 -2.2 0M60.8 279.5a1.1 1.1 0 1 0 2.2 0a1.1 1.1 0 1 0 -2.2 0M63.7 276.5a1.1 1.1 0 1 0 2.2 0a1.1 1.1 0 1 0 -2.2 0M66.6 273.9a1.1 1.1 0 1 0 2.2 0a1.1 1.1 0 1 0 -2.2 0M69.5 272.5a1.1 1.1 0 1 0 2.2 0a1.1 1.1 0 1 0 -2.2 0M72.4 270.6a1.1 1.1 0 1 0 2.2 0a1.1 1.1 0 1 0 -2.2 0M75.3 268.7a1.1 1.1 0 1 0 2.2 0a1.1 1.1 0 1 0 -2.2 0M78.2 266.7a1.1 1.1 0 1 0 2.2 0a1.1 1.1 0 1 0 -2.2 0M81.1 265.6a1.1 1.1 0 1 0 2.2 0a1.1 1.1 0 1 0 -2.2 0M84.0 263.2a1.1 1.1 0 1 0 2.2 0a1.1 1.1 0 1 0 -2.2 0M86.9 261.3a1.1 1.1 0 1 0 2.2 0a1.1 1.1 0 1 0 -2.2 0M89.8 258.6a1.1 1.1 0 1 0 2.2 0a1.1 1.1 0 1 0 -2.2 0M92.7 257.0a1.1 1.1 0 1 0 2.2 0a1.1 1.1 0 1 0 -2.2 0M95.6 255.2a1.1 1.1 0 1 0 2.2 0a1.1 1.1 0 1 0 -2.2 0M98.5 253.0a1.1 1.1 0 1 0 2.2 0a1.1 1.1 0 1 0 -2.2 0M101.4 250.7a1.1 1.1 0 1 0 2.2 0a1.1 1.1 0 1 0 -2.2 0M104.3 248.4a1.1 1.1 0 1 0 2.2 0a1.1 1.1 0 1 0 -2.2 0M107.2 246.6a1.1 1.1 0 1 0 2.2 0a1.1 1.1 0 1 0 -2.2 0M110.1 244.2a1.1 1.1 0 1 0 2.2 0a1.1 1.1 0 1 0 -2.2 0M113.0 242.0a1.1 1.1 0 1 0 2.2 0a1.1 1.1 0 1 0 -2.2 0M115.9 239.8a1.1 1.1 0 1 0 2.2 0a1.1 1.1 0 1 0 -2.2 0M118.8 237.5a1.1 1.1 0 1 0 2.2 0a1.1 1.1 0 1 0 -2.2 0M121.7 235.4a1.1 1.1 0 1 0 2.2 0a1.1 1.1 0 1 0 -2.2 0M124.6 233.1a1.1 1.1 0 1 0 2.2 0a1.1 1.1 0 1 0 -2.2 0M127.5 231.1a1.1 1.1 0 1 0 2.2 0a1.1 1.1 0 1 0 -2.2 0M130.4 228.5a1.1 1.1 0 1 0 2.2 0a1.1 1.1 0 1 0 -2.2 0M133.3 226.4a1.1 1.1 0 1 0 2.2 0a1.1 1.1 0 1 0 -2.2 0M136.2 224.6a1.1 1.1 0 1 0 2.2 0a1.1 1.1 0 1 0 -2.2 0M139.1 222.3a1.1 1.1 0 1 0 2.2 0a1.1 1.1 0 1 0 -2.2 0M142.0 220.4a1.1 1.1 0 1 0 2.2 0a1.1 1.1 0 1 0 -2.2 0M144.9 218.9a1.1 1.1 0 1 0 2.2 0a1.1 1.1 0 1 0 -2.2 0M147.8 216.5a1.1 1.1 0 1 0 2.2 0a1.1 1.1 0 1 0 -2.2 0M150.7 214.6a1.1 1.1 0 1 0 2.2 0a1.1 1.1 0 1 0 -2.2 0M153.6 212.3a1.1 1.1 0 1 0 2.2 0a1.1 1.1 0 1 0 -2.2 0M156.5 210.1a1.1 1.1 0 1 0 2.2 0a1.1 1.1 0 1 0 -2.2 0M159.4 207.9a1.1 1.1 0 1 0 2.2 0a1.1 1.1 0 1 0 -2.2 0M162.3 205.6a1.1 1.1 0 1 0 2.2 0a1.1 1.1 0 1 0 -2.2 0M165.2 203.7a1.1 1.1 0 1 0 2.2 0a1.1 1.1 0 1 0 -2.2 0M168.1 201.4a1.1 1.1 0 1 0 2.2 0a1.1 1.1 0 1 0 -2.2 0M171.0 199.5a1.1 1.1 0 1 0 2.2 0a1.1 1.1 0 1 0 -2.2 0M173.9 197.2a1.1 1.1 0 1 0 2.2 0a1.1 1.1 0 1 0 -2.2 0M176.8 195.1a1.1 1.1 0 1 0 2.2 0a1.1 1.1 0 1 0 -2.2 0M179.7 193.2a1.1 1.1 0 1 0 2.2 0a1.1 1.1 0 1 0 -2.2 0M182.6 190.8a1.1 1.1 0 1 0 2.2 0a1.1 1.1 0 1 0 -2.2 0M185.5 189.0a1.1 1.1 0 1 0 2.2 0a1.1 1.1 0 1 0 -2.2 0M188.4 186.7a1.1 1.1 0 1 0 2.2 0a1.1 1.1 0 1 0 -2.2 0M191.3 184.5a1.1 1.1 0 1 0 2.2 0a1.1 1.1 0 1 0 -2.2 0M194.2 182.3a1.1 1.1 0 1 0 2.2 0a1.1 1.1 0 1 0 -2.2 0M197.1 179.9a1.1 1.1 0 1 0 2.2 0a1.1 1.1 0 1 0 -2.2 0M200.0 177.4a1.1 1.1 0 1 0 2.2 0a1.1 1.1 0 1 0 -2.2 0M202.9 175.4a1.1 1.1 0 1 0 2.2 0a1.1 1.1 0 1 0 -2.2 0M205.8 173.0a1.1 1.1 0 1 0 2.2 0a1.1 1.1 0 1 0 -2.2 0M208.7 170.8a1.1 1.1 0 1 0 2.2 0a1.1 1.1 0 1 0 -2.2 0M211.6 168.7a1.1 1.1 0 1 0 2.2 0a1.1 1.1 0 1 0 -2.2 0M214.5 166.0a1.1 1.1 0 1 0 2.2 0a1.1 1.1 0 1 0 -2.2 0M217.4 163.7a1.1 1.1 0 1 0 2.2 0a1.1 1.1 0 1 0 -2.2 0M220.3 162.0a1.1 1.1 0 1 0 2.2 0a1.1 1.1 0 1 0 -2.2 0M223.2 160.2a1.1 1.1 0 1 0 2.2 0a1.1 1.1 0 1 0 -2.2 0M226.1 158.1a1.1 1.1 0 1 0 2.2 0a1.1 1.1 0 1 0 -2.2 0M229.0 156.9a1.1 1.1 0 1 0 2.2 0a1.1 1.1 0 1 0 -2.2 0M231.9 153.5a1.1 1.1 0 1 0 2.2 0a1.1 1.1 0 1 0 -2.2 0M234.8 151.7a1.1 1.1 0 1 0 2.2 0a1.1 1.1 0 1 0 -2.2 0M237.7 149.3a1.1 1.1 0 1 0 2.2 0a1.1 1.1 0 1 0 -2.2 0M240.6 147.8a1.1 1.1 0 1 0 2.2 0a1.1 1.1 0 1 0 -2.2 0M243.5 146.7a1.1 1.1 0 1 0 2.2 0a1.1 1.1 0 1 0 -2.2 0M246.4 144.6a1.1 1.1 0 1 0 2.2 0a1.1 1.1 0 1 0 -2.2 0M249.3 141.9a1.1 1.1 0 1 0 2.2 0a1.1 1.1 0 1 0 -2.2 0M252.2 140.2a1.1 1.1 0 1 0 2.2 0a1.1 1.1 0 1 0 -2.2 0M252.9 140.4a1.1 1.1 0 1 0 2.2 0a1.1 1.1 0 1 0 -2.2 0M255.5 140.3a1.1 1.1 0 1 0 2.2 0a1.1 1.1 0 1 0 -2.2 0M258.1 140.7a1.1 1.1 0 1 0 2.2 0a1.1 1.1 0 1 0 -2.2 0M260.7 140.7a1.1 1.1 0 1 0 2.2 0a1.1 1.1 0 1 0 -2.2 0M263.3 140.9a1.1 1.1 0 1 0 2.2 0a1.1 1.1 0 1 0 -2.2 0M265.9 141.1a1.1 1.1 0 1 0 2.2 0a1.1 1.1 0 1 0 -2.2 0M268.5 141.3a1.1 1.1 0 1 0 2.2 0a1.1 1.1 0 1 0 -2.2 0M271.1 141.6a1.1 1.1 0 1 0 2.2 0a1.1 1.1 0 1 0 -2.2 0M273.7 141.2a1.1 1.1 0 1 0 2.2 0a1.1 1.1 0 1 0 -2.2 0M276.3 141.2a1.1 1.1 0 1 0 2.2 0a1.1 1.1 0 1 0 -2.2 0M278.9 141.4a1.1 1.1 0 1 0 2.2 0a1.1 1.1 0 1 0 -2.2 0M279.9 146.3a1.1 1.1 0 1 0 2.2 0a1.1 1.1 0 1 0 -2.2 0M282.5 146.2a1.1 1.1 0 1 0 2.2 0a1.1 1.1 0 1 0 -2.2 0M285.1 146.1a1.1 1.1 0 1 0 2.2 0a1.1 1.1 0 1 0 -2.2 0M287.7 146.3a1.1 1.1 0 1 0 2.2 0a1.1 1.1 0 1 0 -2.2 0M290.3 146.7a1.1 1.1 0 1 0 2.2 0a1.1 1.1 0 1 0 -2.2 0M292.9 146.3a1.1 1.1 0 1 0 2.2 0a1.1 1.1 0 1 0 -2.2 0M295.5 146.9a1.1 1.1 0 1 0 2.2 0a1.1 1.1 0 1 0 -2.2 0M298.1 146.3a1.1 1.1 0 1 0 2.2 0a1.1 1.1 0 1 0 -2.2 0M300.7 147.0a1.1 1.1 0 1 0 2.2 0a1.1 1.1 0 1 0 -2.2 0M303.3 147.1a1.1 1.1 0 1 0 2.2 0a1.1 1.1 0 1 0 -2.2 0M305.9 146.9a1.1 1.1 0 1 0 2.2 0a1.1 1.1 0 1 0 -2.2 0M308.5 147.1a1.1 1.1 0 1 0 2.2 0a1.1 1.1 0 1 0 -2.2 0M311.1 147.1a1.1 1.1 0 1 0 2.2 0a1.1 1.1 0 1 0 -2.2 0M313.7 147.7a1.1 1.1 0 1 0 2.2 0a1.1 1.1 0 1 0 -2.2 0" fill="none" stroke="#ff1a1a" stroke-width="1.0"/><path d="M41.7 282.3a1.1 1.1 0 1 0 2.2 0a1.1 1.1 0 1 0 -2.2 0" fill="none" stroke="#1e8cff" stroke-width="1.0"/><path d="M41.8 279.8a1.0 1.0 0 1 0 2.0 0a1.0 1.0 0 1 0 -2.0 0" fill="none" stroke="#ff8a1e" stroke-width="0.8"/><path d="M42.5 289.4 L46.5 285.8 L50.5 282.2 L54.5 278.6 L58.5 275.0 L62.5 271.5 L66.5 267.9 L70.5 264.3 L74.5 260.7 L78.5 257.2 L82.5 253.6 L86.5 250.1 L90.5 246.5 L94.5 243.0 L98.5 239.5 L102.5 235.9 L106.5 232.4 L110.5 228.9 L114.5 225.4 L118.5 221.9 L122.5 218.4 L126.5 214.9 L130.5 211.4 L134.5 207.9 L138.5 204.4 L142.5 200.9 L146.5 197.4 L150.5 194.0 L154.5 190.5 L158.5 187.0 L162.5 183.6 L166.5 180.1 L170.5 176.7 L174.5 173.2 L178.5 169.8 L182.5 166.4 L186.5 163.0 L190.5 159.5 L194.5 156.1 L198.5 152.7 L202.5 149.3 L206.5 145.9 L210.5 142.5 L214.5 139.1 L218.5 135.7 L222.5 132.4 L226.5 129.0 L230.5 125.6 L234.5 122.3 L238.5 118.9 L242.5 115.5 L246.5 112.2 L250.5 108.8 L254.5 105.5 L258.5 102.2 L262.5 98.8 L266.5 95.5 L270.5 92.2 L274.5 88.9 L278.5 85.6 L282.5 82.3 L286.5 79.0 L290.5 75.7 L294.5 72.4 L298.5 69.1 L300.7 65.6" fill="none" stroke="#000" stroke-width="2.4" stroke-linejoin="round"/><path d="M300.3 66.6 L314 69 L335 70.4 L368.8 71.7" fill="none" stroke="#000" stroke-width="4.4" stroke-linejoin="round"/><text x="275" y="168.4" font-family="Liberation Serif" font-size="12.5" fill="#000">Recovery</text><text x="52.6" y="59.3" font-family="Liberation Serif" font-size="12" fill="#9e9e9e" xml:space="preserve" style="white-space:pre">Configuration :  ON - OFF</text><text x="83" y="73.5" font-family="Liberation Serif" font-size="12" fill="#000">500 nW</text><path d="M64.7 69.5a0.9 0.9 0 1 0 1.8 0a0.9 0.9 0 1 0 -1.8 0" fill="none" stroke="#858585" stroke-width="0.7"/><text x="83" y="88.3" font-family="Liberation Serif" font-size="12" fill="#000">1 µW</text><path d="M64.7 84.3a0.9 0.9 0 1 0 1.8 0a0.9 0.9 0 1 0 -1.8 0" fill="none" stroke="#c22cff" stroke-width="0.7"/><text x="83" y="103.1" font-family="Liberation Serif" font-size="12" fill="#000">10 µW</text><path d="M64.7 99.1a0.9 0.9 0 1 0 1.8 0a0.9 0.9 0 1 0 -1.8 0" fill="none" stroke="#5a3cff" stroke-width="0.7"/><text x="83" y="117.9" font-family="Liberation Serif" font-size="12" fill="#000">50 µW</text><path d="M64.7 113.9a0.9 0.9 0 1 0 1.8 0a0.9 0.9 0 1 0 -1.8 0" fill="none" stroke="#1e8cff" stroke-width="0.7"/><text x="83" y="132.7" font-family="Liberation Serif" font-size="12" fill="#000">100 µW</text><path d="M64.7 128.7a0.9 0.9 0 1 0 1.8 0a0.9 0.9 0 1 0 -1.8 0" fill="none" stroke="#14b414" stroke-width="0.7"/><text x="83" y="147.5" font-family="Liberation Serif" font-size="12" fill="#000">500 µW</text><path d="M64.7 143.5a0.9 0.9 0 1 0 1.8 0a0.9 0.9 0 1 0 -1.8 0" fill="none" stroke="#ff8a1e" stroke-width="0.7"/><text x="83" y="162.3" font-family="Liberation Serif" font-size="12" fill="#000">1 mW</text><path d="M64.7 158.3a0.9 0.9 0 1 0 1.8 0a0.9 0.9 0 1 0 -1.8 0" fill="none" stroke="#ff1a1a" stroke-width="0.7"/><line x1="52" y1="173.4" x2="79" y2="173.4" stroke="#000" stroke-width="2.4"/><text x="83" y="177.1" font-family="Liberation Serif" font-size="12" fill="#000">500 nW - ON</text><text x="294.5" y="276.5" font-family="Liberation Serif" font-weight="bold" font-size="20.5" fill="#000">(a)</text><rect x="42.5" y="41.0" width="350.2" height="248.4" fill="none" stroke="#111" stroke-width="1.4"/><path d="M37.5 289.4H42.5M392.7 289.4H388.2M40.5 266.8H42.5M392.7 266.8H390.2M37.5 244.2H42.5M392.7 244.2H388.2M40.5 221.7H42.5M392.7 221.7H390.2M37.5 199.1H42.5M392.7 199.1H388.2M40.5 176.5H42.5M392.7 176.5H390.2M37.5 153.9H42.5M392.7 153.9H388.2M40.5 131.3H42.5M392.7 131.3H390.2M37.5 108.7H42.5M392.7 108.7H388.2M40.5 86.2H42.5M392.7 86.2H390.2M37.5 63.6H42.5M392.7 63.6H388.2M40.5 41.0H42.5M392.7 41.0H390.2M42.5 289.4V285.9M77.5 289.4V287.4M112.5 289.4V285.9M147.6 289.4V287.4M182.6 289.4V285.9M217.6 289.4V287.4M252.6 289.4V285.9M287.6 289.4V287.4M322.7 289.4V285.9M357.7 289.4V287.4M392.7 289.4V285.9M41.8 41.0V45.5M60.4 41.0V43.2M78.9 41.0V45.5M97.5 41.0V43.2M116.1 41.0V45.5M134.7 41.0V43.2M153.2 41.0V45.5M171.8 41.0V43.2M190.4 41.0V45.5M209.0 41.0V43.2M227.6 41.0V45.5M246.1 41.0V43.2M264.7 41.0V45.5M283.3 41.0V43.2M301.9 41.0V45.5M320.4 41.0V43.2M339.0 41.0V45.5M357.6 41.0V43.2M376.1 41.0V45.5" stroke="#111" stroke-width="1.3" fill="none"/><text x="28.6" y="293.9" font-family="Liberation Serif" font-weight="bold" font-size="13.6" text-anchor="end">0</text><text x="28.6" y="248.7" font-family="Liberation Serif" font-weight="bold" font-size="13.6" text-anchor="end">1</text><text x="28.6" y="203.6" font-family="Liberation Serif" font-weight="bold" font-size="13.6" text-anchor="end">2</text><text x="28.6" y="158.4" font-family="Liberation Serif" font-weight="bold" font-size="13.6" text-anchor="end">3</text><text x="28.6" y="113.2" font-family="Liberation Serif" font-weight="bold" font-size="13.6" text-anchor="end">4</text><text x="28.6" y="68.1" font-family="Liberation Serif" font-weight="bold" font-size="13.6" text-anchor="end">5</text><text x="42.5" y="306.5" font-family="Liberation Serif" font-weight="bold" font-size="13.6" text-anchor="middle">0</text><text x="112.5" y="306.5" font-family="Liberation Serif" font-weight="bold" font-size="13.6" text-anchor="middle">5</text><text x="182.6" y="306.5" font-family="Liberation Serif" font-weight="bold" font-size="13.6" text-anchor="middle">10</text><text x="252.6" y="306.5" font-family="Liberation Serif" font-weight="bold" font-size="13.6" text-anchor="middle">15</text><text x="322.7" y="306.5" font-family="Liberation Serif" font-weight="bold" font-size="13.6" text-anchor="middle">20</text><text x="392.7" y="306.5" font-family="Liberation Serif" font-weight="bold" font-size="13.6" text-anchor="middle">25</text><text x="41.8" y="34.2" font-family="Liberation Serif" font-weight="bold" font-size="13.6" text-anchor="middle">0</text><text x="78.9" y="34.2" font-family="Liberation Serif" font-weight="bold" font-size="13.6" text-anchor="middle">5</text><text x="116.1" y="34.2" font-family="Liberation Serif" font-weight="bold" font-size="13.6" text-anchor="middle">10</text><text x="153.2" y="34.2" font-family="Liberation Serif" font-weight="bold" font-size="13.6" text-anchor="middle">15</text><text x="190.4" y="34.2" font-family="Liberation Serif" font-weight="bold" font-size="13.6" text-anchor="middle">20</text><text x="227.6" y="34.2" font-family="Liberation Serif" font-weight="bold" font-size="13.6" text-anchor="middle">25</text><text x="264.7" y="34.2" font-family="Liberation Serif" font-weight="bold" font-size="13.6" text-anchor="middle">30</text><text x="301.9" y="34.2" font-family="Liberation Serif" font-weight="bold" font-size="13.6" text-anchor="middle">35</text><text x="217.6" y="15.7" font-family="Liberation Serif" font-weight="bold" font-size="15.6" text-anchor="middle">Dose (Gy)</text><text x="217.9" y="327.5" font-family="Liberation Serif" font-weight="bold" font-size="15.6" text-anchor="middle">Time (h)</text><text transform="translate(17.1 164.9) rotate(-90)" font-family="Liberation Serif" font-weight="bold" font-size="15.9" text-anchor="middle">RIA @638 nm (dB/m)</text><line x1="444.5" y1="89.7" x2="780.5" y2="89.7" stroke="#9a9a9a" stroke-width="1.4" stroke-dasharray="6 5.4" stroke-dashoffset="2"/><path d="M443.2 62.0a0.95 0.95 0 1 0 1.9 0a0.95 0.95 0 1 0 -1.9 0M443.2 68.0a0.95 0.95 0 1 0 1.9 0a0.95 0.95 0 1 0 -1.9 0M443.2 74.0a0.95 0.95 0 1 0 1.9 0a0.95 0.95 0 1 0 -1.9 0M443.2 80.0a0.95 0.95 0 1 0 1.9 0a0.95 0.95 0 1 0 -1.9 0M443.2 105.0a0.95 0.95 0 1 0 1.9 0a0.95 0.95 0 1 0 -1.9 0M443.2 120.0a0.95 0.95 0 1 0 1.9 0a0.95 0.95 0 1 0 -1.9 0M443.2 130.0a0.95 0.95 0 1 0 1.9 0a0.95 0.95 0 1 0 -1.9 0M443.2 139.0a0.95 0.95 0 1 0 1.9 0a0.95 0.95 0 1 0 -1.9 0M443.2 70.2a0.95 0.95 0 1 0 1.9 0a0.95 0.95 0 1 0 -1.9 0M461.8 48.3a0.95 0.95 0 1 0 1.9 0a0.95 0.95 0 1 0 -1.9 0M461.8 60.8a0.95 0.95 0 1 0 1.9 0a0.95 0.95 0 1 0 -1.9 0M461.8 63.0a0.95 0.95 0 1 0 1.9 0a0.95 0.95 0 1 0 -1.9 0M461.8 106.0a0.95 0.95 0 1 0 1.9 0a0.95 0.95 0 1 0 -1.9 0M461.8 134.0a0.95 0.95 0 1 0 1.9 0a0.95 0.95 0 1 0 -1.9 0M461.8 73.1a0.95 0.95 0 1 0 1.9 0a0.95 0.95 0 1 0 -1.9 0M461.8 77.2a0.95 0.95 0 1 0 1.9 0a0.95 0.95 0 1 0 -1.9 0M461.8 94.3a0.95 0.95 0 1 0 1.9 0a0.95 0.95 0 1 0 -1.9 0M461.8 97.8a0.95 0.95 0 1 0 1.9 0a0.95 0.95 0 1 0 -1.9 0M461.8 104.5a0.95 0.95 0 1 0 1.9 0a0.95 0.95 0 1 0 -1.9 0M480.4 45.0a0.95 0.95 0 1 0 1.9 0a0.95 0.95 0 1 0 -1.9 0M480.4 55.0a0.95 0.95 0 1 0 1.9 0a0.95 0.95 0 1 0 -1.9 0M480.4 57.0a0.95 0.95 0 1 0 1.9 0a0.95 0.95 0 1 0 -1.9 0M480.4 61.0a0.95 0.95 0 1 0 1.9 0a0.95 0.95 0 1 0 -1.9 0M480.4 112.0a0.95 0.95 0 1 0 1.9 0a0.95 0.95 0 1 0 -1.9 0M480.4 117.0a0.95 0.95 0 1 0 1.9 0a0.95 0.95 0 1 0 -1.9 0M480.4 132.0a0.95 0.95 0 1 0 1.9 0a0.95 0.95 0 1 0 -1.9 0M480.4 150.0a0.95 0.95 0 1 0 1.9 0a0.95 0.95 0 1 0 -1.9 0M480.4 76.2a0.95 0.95 0 1 0 1.9 0a0.95 0.95 0 1 0 -1.9 0M499.0 45.0a0.95 0.95 0 1 0 1.9 0a0.95 0.95 0 1 0 -1.9 0M499.0 62.0a0.95 0.95 0 1 0 1.9 0a0.95 0.95 0 1 0 -1.9 0M499.0 115.0a0.95 0.95 0 1 0 1.9 0a0.95 0.95 0 1 0 -1.9 0M499.0 132.0a0.95 0.95 0 1 0 1.9 0a0.95 0.95 0 1 0 -1.9 0M499.0 72.0a0.95 0.95 0 1 0 1.9 0a0.95 0.95 0 1 0 -1.9 0M499.0 74.4a0.95 0.95 0 1 0 1.9 0a0.95 0.95 0 1 0 -1.9 0M499.0 76.2a0.95 0.95 0 1 0 1.9 0a0.95 0.95 0 1 0 -1.9 0M517.5 43.0a0.95 0.95 0 1 0 1.9 0a0.95 0.95 0 1 0 -1.9 0M517.5 55.0a0.95 0.95 0 1 0 1.9 0a0.95 0.95 0 1 0 -1.9 0M517.5 63.0a0.95 0.95 0 1 0 1.9 0a0.95 0.95 0 1 0 -1.9 0M517.5 124.0a0.95 0.95 0 1 0 1.9 0a0.95 0.95 0 1 0 -1.9 0M517.5 127.0a0.95 0.95 0 1 0 1.9 0a0.95 0.95 0 1 0 -1.9 0M517.5 129.0a0.95 0.95 0 1 0 1.9 0a0.95 0.95 0 1 0 -1.9 0M517.5 135.0a0.95 0.95 0 1 0 1.9 0a0.95 0.95 0 1 0 -1.9 0M517.5 77.3a0.95 0.95 0 1 0 1.9 0a0.95 0.95 0 1 0 -1.9 0M517.5 81.4a0.95 0.95 0 1 0 1.9 0a0.95 0.95 0 1 0 -1.9 0M536.1 58.0a0.95 0.95 0 1 0 1.9 0a0.95 0.95 0 1 0 -1.9 0M536.1 62.0a0.95 0.95 0 1 0 1.9 0a0.95 0.95 0 1 0 -1.9 0M536.1 66.0a0.95 0.95 0 1 0 1.9 0a0.95 0.95 0 1 0 -1.9 0M536.1 132.0a0.95 0.95 0 1 0 1.9 0a0.95 0.95 0 1 0 -1.9 0M536.1 141.0a0.95 0.95 0 1 0 1.9 0a0.95 0.95 0 1 0 -1.9 0M554.8 63.8a0.95 0.95 0 1 0 1.9 0a0.95 0.95 0 1 0 -1.9 0M554.8 65.0a0.95 0.95 0 1 0 1.9 0a0.95 0.95 0 1 0 -1.9 0M554.8 73.8a0.95 0.95 0 1 0 1.9 0a0.95 0.95 0 1 0 -1.9 0M554.8 124.0a0.95 0.95 0 1 0 1.9 0a0.95 0.95 0 1 0 -1.9 0M554.8 144.0a0.95 0.95 0 1 0 1.9 0a0.95 0.95 0 1 0 -1.9 0M554.8 164.0a0.95 0.95 0 1 0 1.9 0a0.95 0.95 0 1 0 -1.9 0M554.8 84.8a0.95 0.95 0 1 0 1.9 0a0.95 0.95 0 1 0 -1.9 0M554.8 118.8a0.95 0.95 0 1 0 1.9 0a0.95 0.95 0 1 0 -1.9 0M573.4 47.0a0.95 0.95 0 1 0 1.9 0a0.95 0.95 0 1 0 -1.9 0M573.4 51.0a0.95 0.95 0 1 0 1.9 0a0.95 0.95 0 1 0 -1.9 0M573.4 57.0a0.95 0.95 0 1 0 1.9 0a0.95 0.95 0 1 0 -1.9 0M573.4 62.0a0.95 0.95 0 1 0 1.9 0a0.95 0.95 0 1 0 -1.9 0M573.4 70.0a0.95 0.95 0 1 0 1.9 0a0.95 0.95 0 1 0 -1.9 0M573.4 75.0a0.95 0.95 0 1 0 1.9 0a0.95 0.95 0 1 0 -1.9 0M573.4 125.0a0.95 0.95 0 1 0 1.9 0a0.95 0.95 0 1 0 -1.9 0M573.4 88.1a0.95 0.95 0 1 0 1.9 0a0.95 0.95 0 1 0 -1.9 0M573.4 115.6a0.95 0.95 0 1 0 1.9 0a0.95 0.95 0 1 0 -1.9 0M592.0 57.0a0.95 0.95 0 1 0 1.9 0a0.95 0.95 0 1 0 -1.9 0M592.0 70.0a0.95 0.95 0 1 0 1.9 0a0.95 0.95 0 1 0 -1.9 0M592.0 79.0a0.95 0.95 0 1 0 1.9 0a0.95 0.95 0 1 0 -1.9 0M592.0 83.0a0.95 0.95 0 1 0 1.9 0a0.95 0.95 0 1 0 -1.9 0M592.0 132.0a0.95 0.95 0 1 0 1.9 0a0.95 0.95 0 1 0 -1.9 0M592.0 135.0a0.95 0.95 0 1 0 1.9 0a0.95 0.95 0 1 0 -1.9 0M592.0 139.0a0.95 0.95 0 1 0 1.9 0a0.95 0.95 0 1 0 -1.9 0M592.0 141.0a0.95 0.95 0 1 0 1.9 0a0.95 0.95 0 1 0 -1.9 0M592.0 146.0a0.95 0.95 0 1 0 1.9 0a0.95 0.95 0 1 0 -1.9 0M592.0 86.0a0.95 0.95 0 1 0 1.9 0a0.95 0.95 0 1 0 -1.9 0M592.0 90.1a0.95 0.95 0 1 0 1.9 0a0.95 0.95 0 1 0 -1.9 0M610.5 41.0a0.95 0.95 0 1 0 1.9 0a0.95 0.95 0 1 0 -1.9 0M610.5 47.0a0.95 0.95 0 1 0 1.9 0a0.95 0.95 0 1 0 -1.9 0M610.5 53.0a0.95 0.95 0 1 0 1.9 0a0.95 0.95 0 1 0 -1.9 0M610.5 61.0a0.95 0.95 0 1 0 1.9 0a0.95 0.95 0 1 0 -1.9 0M610.5 73.0a0.95 0.95 0 1 0 1.9 0a0.95 0.95 0 1 0 -1.9 0M610.5 133.5a0.95 0.95 0 1 0 1.9 0a0.95 0.95 0 1 0 -1.9 0M610.5 155.0a0.95 0.95 0 1 0 1.9 0a0.95 0.95 0 1 0 -1.9 0M629.1 44.5a0.95 0.95 0 1 0 1.9 0a0.95 0.95 0 1 0 -1.9 0M629.1 52.0a0.95 0.95 0 1 0 1.9 0a0.95 0.95 0 1 0 -1.9 0M629.1 58.0a0.95 0.95 0 1 0 1.9 0a0.95 0.95 0 1 0 -1.9 0M629.1 62.0a0.95 0.95 0 1 0 1.9 0a0.95 0.95 0 1 0 -1.9 0M629.1 84.0a0.95 0.95 0 1 0 1.9 0a0.95 0.95 0 1 0 -1.9 0M629.1 138.0a0.95 0.95 0 1 0 1.9 0a0.95 0.95 0 1 0 -1.9 0M629.1 120.5a0.95 0.95 0 1 0 1.9 0a0.95 0.95 0 1 0 -1.9 0M647.8 41.0a0.95 0.95 0 1 0 1.9 0a0.95 0.95 0 1 0 -1.9 0M647.8 67.0a0.95 0.95 0 1 0 1.9 0a0.95 0.95 0 1 0 -1.9 0M647.8 86.0a0.95 0.95 0 1 0 1.9 0a0.95 0.95 0 1 0 -1.9 0M647.8 90.0a0.95 0.95 0 1 0 1.9 0a0.95 0.95 0 1 0 -1.9 0M647.8 135.0a0.95 0.95 0 1 0 1.9 0a0.95 0.95 0 1 0 -1.9 0M647.8 144.5a0.95 0.95 0 1 0 1.9 0a0.95 0.95 0 1 0 -1.9 0M647.8 96.7a0.95 0.95 0 1 0 1.9 0a0.95 0.95 0 1 0 -1.9 0M647.8 111.4a0.95 0.95 0 1 0 1.9 0a0.95 0.95 0 1 0 -1.9 0M666.4 60.0a0.95 0.95 0 1 0 1.9 0a0.95 0.95 0 1 0 -1.9 0M666.4 65.0a0.95 0.95 0 1 0 1.9 0a0.95 0.95 0 1 0 -1.9 0M666.4 67.0a0.95 0.95 0 1 0 1.9 0a0.95 0.95 0 1 0 -1.9 0M666.4 78.0a0.95 0.95 0 1 0 1.9 0a0.95 0.95 0 1 0 -1.9 0M666.4 92.5a0.95 0.95 0 1 0 1.9 0a0.95 0.95 0 1 0 -1.9 0M666.4 155.0a0.95 0.95 0 1 0 1.9 0a0.95 0.95 0 1 0 -1.9 0M666.4 161.0a0.95 0.95 0 1 0 1.9 0a0.95 0.95 0 1 0 -1.9 0M666.4 167.0a0.95 0.95 0 1 0 1.9 0a0.95 0.95 0 1 0 -1.9 0M666.4 136.9a0.95 0.95 0 1 0 1.9 0a0.95 0.95 0 1 0 -1.9 0M666.4 139.2a0.95 0.95 0 1 0 1.9 0a0.95 0.95 0 1 0 -1.9 0M685.0 65.5a0.95 0.95 0 1 0 1.9 0a0.95 0.95 0 1 0 -1.9 0M685.0 76.0a0.95 0.95 0 1 0 1.9 0a0.95 0.95 0 1 0 -1.9 0M685.0 86.0a0.95 0.95 0 1 0 1.9 0a0.95 0.95 0 1 0 -1.9 0M685.0 89.0a0.95 0.95 0 1 0 1.9 0a0.95 0.95 0 1 0 -1.9 0M685.0 136.0a0.95 0.95 0 1 0 1.9 0a0.95 0.95 0 1 0 -1.9 0M685.0 149.0a0.95 0.95 0 1 0 1.9 0a0.95 0.95 0 1 0 -1.9 0M685.0 137.6a0.95 0.95 0 1 0 1.9 0a0.95 0.95 0 1 0 -1.9 0M685.0 139.9a0.95 0.95 0 1 0 1.9 0a0.95 0.95 0 1 0 -1.9 0M685.0 142.2a0.95 0.95 0 1 0 1.9 0a0.95 0.95 0 1 0 -1.9 0M703.5 52.0a0.95 0.95 0 1 0 1.9 0a0.95 0.95 0 1 0 -1.9 0M703.5 60.0a0.95 0.95 0 1 0 1.9 0a0.95 0.95 0 1 0 -1.9 0M703.5 70.0a0.95 0.95 0 1 0 1.9 0a0.95 0.95 0 1 0 -1.9 0M703.5 76.0a0.95 0.95 0 1 0 1.9 0a0.95 0.95 0 1 0 -1.9 0M703.5 85.0a0.95 0.95 0 1 0 1.9 0a0.95 0.95 0 1 0 -1.9 0M703.5 89.0a0.95 0.95 0 1 0 1.9 0a0.95 0.95 0 1 0 -1.9 0M703.5 140.0a0.95 0.95 0 1 0 1.9 0a0.95 0.95 0 1 0 -1.9 0M703.5 153.0a0.95 0.95 0 1 0 1.9 0a0.95 0.95 0 1 0 -1.9 0M703.5 98.1a0.95 0.95 0 1 0 1.9 0a0.95 0.95 0 1 0 -1.9 0M703.5 100.6a0.95 0.95 0 1 0 1.9 0a0.95 0.95 0 1 0 -1.9 0M703.5 139.9a0.95 0.95 0 1 0 1.9 0a0.95 0.95 0 1 0 -1.9 0M722.1 53.0a0.95 0.95 0 1 0 1.9 0a0.95 0.95 0 1 0 -1.9 0M722.1 68.0a0.95 0.95 0 1 0 1.9 0a0.95 0.95 0 1 0 -1.9 0M722.1 77.0a0.95 0.95 0 1 0 1.9 0a0.95 0.95 0 1 0 -1.9 0M722.1 81.0a0.95 0.95 0 1 0 1.9 0a0.95 0.95 0 1 0 -1.9 0M722.1 91.0a0.95 0.95 0 1 0 1.9 0a0.95 0.95 0 1 0 -1.9 0M722.1 94.0a0.95 0.95 0 1 0 1.9 0a0.95 0.95 0 1 0 -1.9 0M722.1 145.0a0.95 0.95 0 1 0 1.9 0a0.95 0.95 0 1 0 -1.9 0M722.1 150.0a0.95 0.95 0 1 0 1.9 0a0.95 0.95 0 1 0 -1.9 0M722.1 97.9a0.95 0.95 0 1 0 1.9 0a0.95 0.95 0 1 0 -1.9 0M722.1 139.3a0.95 0.95 0 1 0 1.9 0a0.95 0.95 0 1 0 -1.9 0M722.1 146.2a0.95 0.95 0 1 0 1.9 0a0.95 0.95 0 1 0 -1.9 0M740.8 51.0a0.95 0.95 0 1 0 1.9 0a0.95 0.95 0 1 0 -1.9 0M740.8 67.0a0.95 0.95 0 1 0 1.9 0a0.95 0.95 0 1 0 -1.9 0M740.8 87.0a0.95 0.95 0 1 0 1.9 0a0.95 0.95 0 1 0 -1.9 0M740.8 93.0a0.95 0.95 0 1 0 1.9 0a0.95 0.95 0 1 0 -1.9 0M740.8 141.0a0.95 0.95 0 1 0 1.9 0a0.95 0.95 0 1 0 -1.9 0M740.8 148.0a0.95 0.95 0 1 0 1.9 0a0.95 0.95 0 1 0 -1.9 0M740.8 152.0a0.95 0.95 0 1 0 1.9 0a0.95 0.95 0 1 0 -1.9 0M740.8 140.3a0.95 0.95 0 1 0 1.9 0a0.95 0.95 0 1 0 -1.9 0M740.8 142.6a0.95 0.95 0 1 0 1.9 0a0.95 0.95 0 1 0 -1.9 0M740.8 147.2a0.95 0.95 0 1 0 1.9 0a0.95 0.95 0 1 0 -1.9 0M759.4 68.0a0.95 0.95 0 1 0 1.9 0a0.95 0.95 0 1 0 -1.9 0M759.4 74.0a0.95 0.95 0 1 0 1.9 0a0.95 0.95 0 1 0 -1.9 0M759.4 79.0a0.95 0.95 0 1 0 1.9 0a0.95 0.95 0 1 0 -1.9 0M759.4 81.0a0.95 0.95 0 1 0 1.9 0a0.95 0.95 0 1 0 -1.9 0M759.4 88.0a0.95 0.95 0 1 0 1.9 0a0.95 0.95 0 1 0 -1.9 0M759.4 146.0a0.95 0.95 0 1 0 1.9 0a0.95 0.95 0 1 0 -1.9 0M759.4 152.0a0.95 0.95 0 1 0 1.9 0a0.95 0.95 0 1 0 -1.9 0M759.4 141.6a0.95 0.95 0 1 0 1.9 0a0.95 0.95 0 1 0 -1.9 0M759.4 146.2a0.95 0.95 0 1 0 1.9 0a0.95 0.95 0 1 0 -1.9 0" fill="none" stroke="#c22cff" stroke-width="0.75"/><path d="M461.8 75.2a0.95 0.95 0 1 0 1.9 0a0.95 0.95 0 1 0 -1.9 0M480.4 72.4a0.95 0.95 0 1 0 1.9 0a0.95 0.95 0 1 0 -1.9 0M499.0 78.3a0.95 0.95 0 1 0 1.9 0a0.95 0.95 0 1 0 -1.9 0M517.5 78.9a0.95 0.95 0 1 0 1.9 0a0.95 0.95 0 1 0 -1.9 0M536.1 82.1a0.95 0.95 0 1 0 1.9 0a0.95 0.95 0 1 0 -1.9 0M610.5 84.0a0.95 0.95 0 1 0 1.9 0a0.95 0.95 0 1 0 -1.9 0M610.5 86.2a0.95 0.95 0 1 0 1.9 0a0.95 0.95 0 1 0 -1.9 0M610.5 88.2a0.95 0.95 0 1 0 1.9 0a0.95 0.95 0 1 0 -1.9 0M610.5 90.2a0.95 0.95 0 1 0 1.9 0a0.95 0.95 0 1 0 -1.9 0M629.1 89.4a0.95 0.95 0 1 0 1.9 0a0.95 0.95 0 1 0 -1.9 0M666.4 97.3a0.95 0.95 0 1 0 1.9 0a0.95 0.95 0 1 0 -1.9 0M666.4 99.0a0.95 0.95 0 1 0 1.9 0a0.95 0.95 0 1 0 -1.9 0M685.0 101.3a0.95 0.95 0 1 0 1.9 0a0.95 0.95 0 1 0 -1.9 0M703.5 96.4a0.95 0.95 0 1 0 1.9 0a0.95 0.95 0 1 0 -1.9 0M703.5 102.7a0.95 0.95 0 1 0 1.9 0a0.95 0.95 0 1 0 -1.9 0M722.1 102.2a0.95 0.95 0 1 0 1.9 0a0.95 0.95 0 1 0 -1.9 0M740.8 106.3a0.95 0.95 0 1 0 1.9 0a0.95 0.95 0 1 0 -1.9 0M759.4 105.5a0.95 0.95 0 1 0 1.9 0a0.95 0.95 0 1 0 -1.9 0" fill="none" stroke="#5a3cff" stroke-width="0.75"/><path d="M443.2 65.9a0.95 0.95 0 1 0 1.9 0a0.95 0.95 0 1 0 -1.9 0M443.2 68.3a0.95 0.95 0 1 0 1.9 0a0.95 0.95 0 1 0 -1.9 0M443.2 72.1a0.95 0.95 0 1 0 1.9 0a0.95 0.95 0 1 0 -1.9 0M443.2 76.1a0.95 0.95 0 1 0 1.9 0a0.95 0.95 0 1 0 -1.9 0M461.8 71.3a0.95 0.95 0 1 0 1.9 0a0.95 0.95 0 1 0 -1.9 0M461.8 88.0a0.95 0.95 0 1 0 1.9 0a0.95 0.95 0 1 0 -1.9 0M461.8 89.9a0.95 0.95 0 1 0 1.9 0a0.95 0.95 0 1 0 -1.9 0M480.4 70.2a0.95 0.95 0 1 0 1.9 0a0.95 0.95 0 1 0 -1.9 0M480.4 74.0a0.95 0.95 0 1 0 1.9 0a0.95 0.95 0 1 0 -1.9 0M480.4 80.7a0.95 0.95 0 1 0 1.9 0a0.95 0.95 0 1 0 -1.9 0M480.4 88.7a0.95 0.95 0 1 0 1.9 0a0.95 0.95 0 1 0 -1.9 0M499.0 84.7a0.95 0.95 0 1 0 1.9 0a0.95 0.95 0 1 0 -1.9 0M499.0 90.8a0.95 0.95 0 1 0 1.9 0a0.95 0.95 0 1 0 -1.9 0M517.5 87.1a0.95 0.95 0 1 0 1.9 0a0.95 0.95 0 1 0 -1.9 0M536.1 80.4a0.95 0.95 0 1 0 1.9 0a0.95 0.95 0 1 0 -1.9 0M536.1 84.0a0.95 0.95 0 1 0 1.9 0a0.95 0.95 0 1 0 -1.9 0M554.8 81.0a0.95 0.95 0 1 0 1.9 0a0.95 0.95 0 1 0 -1.9 0M554.8 82.9a0.95 0.95 0 1 0 1.9 0a0.95 0.95 0 1 0 -1.9 0M554.8 87.2a0.95 0.95 0 1 0 1.9 0a0.95 0.95 0 1 0 -1.9 0M554.8 95.3a0.95 0.95 0 1 0 1.9 0a0.95 0.95 0 1 0 -1.9 0M554.8 97.5a0.95 0.95 0 1 0 1.9 0a0.95 0.95 0 1 0 -1.9 0M573.4 83.8a0.95 0.95 0 1 0 1.9 0a0.95 0.95 0 1 0 -1.9 0M573.4 86.1a0.95 0.95 0 1 0 1.9 0a0.95 0.95 0 1 0 -1.9 0M592.0 84.1a0.95 0.95 0 1 0 1.9 0a0.95 0.95 0 1 0 -1.9 0M592.0 88.3a0.95 0.95 0 1 0 1.9 0a0.95 0.95 0 1 0 -1.9 0M610.5 100.9a0.95 0.95 0 1 0 1.9 0a0.95 0.95 0 1 0 -1.9 0M629.1 86.9a0.95 0.95 0 1 0 1.9 0a0.95 0.95 0 1 0 -1.9 0M629.1 90.9a0.95 0.95 0 1 0 1.9 0a0.95 0.95 0 1 0 -1.9 0M629.1 93.3a0.95 0.95 0 1 0 1.9 0a0.95 0.95 0 1 0 -1.9 0M629.1 97.4a0.95 0.95 0 1 0 1.9 0a0.95 0.95 0 1 0 -1.9 0M647.8 92.2a0.95 0.95 0 1 0 1.9 0a0.95 0.95 0 1 0 -1.9 0M647.8 93.8a0.95 0.95 0 1 0 1.9 0a0.95 0.95 0 1 0 -1.9 0M647.8 107.1a0.95 0.95 0 1 0 1.9 0a0.95 0.95 0 1 0 -1.9 0M666.4 101.3a0.95 0.95 0 1 0 1.9 0a0.95 0.95 0 1 0 -1.9 0M666.4 103.7a0.95 0.95 0 1 0 1.9 0a0.95 0.95 0 1 0 -1.9 0M666.4 111.6a0.95 0.95 0 1 0 1.9 0a0.95 0.95 0 1 0 -1.9 0M666.4 115.8a0.95 0.95 0 1 0 1.9 0a0.95 0.95 0 1 0 -1.9 0M666.4 121.8a0.95 0.95 0 1 0 1.9 0a0.95 0.95 0 1 0 -1.9 0M666.4 124.4a0.95 0.95 0 1 0 1.9 0a0.95 0.95 0 1 0 -1.9 0M685.0 97.1a0.95 0.95 0 1 0 1.9 0a0.95 0.95 0 1 0 -1.9 0M685.0 98.7a0.95 0.95 0 1 0 1.9 0a0.95 0.95 0 1 0 -1.9 0M685.0 103.1a0.95 0.95 0 1 0 1.9 0a0.95 0.95 0 1 0 -1.9 0M685.0 105.8a0.95 0.95 0 1 0 1.9 0a0.95 0.95 0 1 0 -1.9 0M703.5 115.0a0.95 0.95 0 1 0 1.9 0a0.95 0.95 0 1 0 -1.9 0M703.5 117.3a0.95 0.95 0 1 0 1.9 0a0.95 0.95 0 1 0 -1.9 0M703.5 125.6a0.95 0.95 0 1 0 1.9 0a0.95 0.95 0 1 0 -1.9 0M722.1 100.5a0.95 0.95 0 1 0 1.9 0a0.95 0.95 0 1 0 -1.9 0M722.1 104.8a0.95 0.95 0 1 0 1.9 0a0.95 0.95 0 1 0 -1.9 0M722.1 110.8a0.95 0.95 0 1 0 1.9 0a0.95 0.95 0 1 0 -1.9 0M722.1 114.8a0.95 0.95 0 1 0 1.9 0a0.95 0.95 0 1 0 -1.9 0M722.1 129.5a0.95 0.95 0 1 0 1.9 0a0.95 0.95 0 1 0 -1.9 0M722.1 133.5a0.95 0.95 0 1 0 1.9 0a0.95 0.95 0 1 0 -1.9 0M740.8 100.5a0.95 0.95 0 1 0 1.9 0a0.95 0.95 0 1 0 -1.9 0M740.8 102.2a0.95 0.95 0 1 0 1.9 0a0.95 0.95 0 1 0 -1.9 0M740.8 104.2a0.95 0.95 0 1 0 1.9 0a0.95 0.95 0 1 0 -1.9 0M740.8 112.3a0.95 0.95 0 1 0 1.9 0a0.95 0.95 0 1 0 -1.9 0M740.8 114.6a0.95 0.95 0 1 0 1.9 0a0.95 0.95 0 1 0 -1.9 0M740.8 120.9a0.95 0.95 0 1 0 1.9 0a0.95 0.95 0 1 0 -1.9 0M740.8 131.6a0.95 0.95 0 1 0 1.9 0a0.95 0.95 0 1 0 -1.9 0M759.4 98.8a0.95 0.95 0 1 0 1.9 0a0.95 0.95 0 1 0 -1.9 0M759.4 100.9a0.95 0.95 0 1 0 1.9 0a0.95 0.95 0 1 0 -1.9 0M759.4 102.9a0.95 0.95 0 1 0 1.9 0a0.95 0.95 0 1 0 -1.9 0M759.4 109.5a0.95 0.95 0 1 0 1.9 0a0.95 0.95 0 1 0 -1.9 0M759.4 111.8a0.95 0.95 0 1 0 1.9 0a0.95 0.95 0 1 0 -1.9 0M759.4 117.8a0.95 0.95 0 1 0 1.9 0a0.95 0.95 0 1 0 -1.9 0M759.4 132.6a0.95 0.95 0 1 0 1.9 0a0.95 0.95 0 1 0 -1.9 0" fill="none" stroke="#1e8cff" stroke-width="0.75"/><path d="M443.2 74.2a0.95 0.95 0 1 0 1.9 0a0.95 0.95 0 1 0 -1.9 0M536.1 94.6a0.95 0.95 0 1 0 1.9 0a0.95 0.95 0 1 0 -1.9 0M573.4 90.5a0.95 0.95 0 1 0 1.9 0a0.95 0.95 0 1 0 -1.9 0M629.1 99.1a0.95 0.95 0 1 0 1.9 0a0.95 0.95 0 1 0 -1.9 0M629.1 101.9a0.95 0.95 0 1 0 1.9 0a0.95 0.95 0 1 0 -1.9 0M647.8 98.2a0.95 0.95 0 1 0 1.9 0a0.95 0.95 0 1 0 -1.9 0M647.8 108.8a0.95 0.95 0 1 0 1.9 0a0.95 0.95 0 1 0 -1.9 0M666.4 107.4a0.95 0.95 0 1 0 1.9 0a0.95 0.95 0 1 0 -1.9 0M666.4 117.6a0.95 0.95 0 1 0 1.9 0a0.95 0.95 0 1 0 -1.9 0M666.4 128.3a0.95 0.95 0 1 0 1.9 0a0.95 0.95 0 1 0 -1.9 0M685.0 107.3a0.95 0.95 0 1 0 1.9 0a0.95 0.95 0 1 0 -1.9 0M685.0 109.6a0.95 0.95 0 1 0 1.9 0a0.95 0.95 0 1 0 -1.9 0M685.0 113.8a0.95 0.95 0 1 0 1.9 0a0.95 0.95 0 1 0 -1.9 0M685.0 120.4a0.95 0.95 0 1 0 1.9 0a0.95 0.95 0 1 0 -1.9 0M685.0 122.4a0.95 0.95 0 1 0 1.9 0a0.95 0.95 0 1 0 -1.9 0M685.0 124.2a0.95 0.95 0 1 0 1.9 0a0.95 0.95 0 1 0 -1.9 0M685.0 128.7a0.95 0.95 0 1 0 1.9 0a0.95 0.95 0 1 0 -1.9 0M685.0 132.8a0.95 0.95 0 1 0 1.9 0a0.95 0.95 0 1 0 -1.9 0M703.5 127.6a0.95 0.95 0 1 0 1.9 0a0.95 0.95 0 1 0 -1.9 0M722.1 112.4a0.95 0.95 0 1 0 1.9 0a0.95 0.95 0 1 0 -1.9 0M722.1 119.4a0.95 0.95 0 1 0 1.9 0a0.95 0.95 0 1 0 -1.9 0M722.1 123.2a0.95 0.95 0 1 0 1.9 0a0.95 0.95 0 1 0 -1.9 0M722.1 125.3a0.95 0.95 0 1 0 1.9 0a0.95 0.95 0 1 0 -1.9 0M722.1 127.3a0.95 0.95 0 1 0 1.9 0a0.95 0.95 0 1 0 -1.9 0M740.8 108.7a0.95 0.95 0 1 0 1.9 0a0.95 0.95 0 1 0 -1.9 0M740.8 118.9a0.95 0.95 0 1 0 1.9 0a0.95 0.95 0 1 0 -1.9 0M740.8 124.8a0.95 0.95 0 1 0 1.9 0a0.95 0.95 0 1 0 -1.9 0M740.8 127.4a0.95 0.95 0 1 0 1.9 0a0.95 0.95 0 1 0 -1.9 0M740.8 135.5a0.95 0.95 0 1 0 1.9 0a0.95 0.95 0 1 0 -1.9 0M759.4 113.6a0.95 0.95 0 1 0 1.9 0a0.95 0.95 0 1 0 -1.9 0M759.4 119.9a0.95 0.95 0 1 0 1.9 0a0.95 0.95 0 1 0 -1.9 0M759.4 130.5a0.95 0.95 0 1 0 1.9 0a0.95 0.95 0 1 0 -1.9 0" fill="none" stroke="#22b482" stroke-width="0.75"/><path d="M443.2 78.6a0.95 0.95 0 1 0 1.9 0a0.95 0.95 0 1 0 -1.9 0M443.2 82.7a0.95 0.95 0 1 0 1.9 0a0.95 0.95 0 1 0 -1.9 0M461.8 79.2a0.95 0.95 0 1 0 1.9 0a0.95 0.95 0 1 0 -1.9 0M461.8 81.4a0.95 0.95 0 1 0 1.9 0a0.95 0.95 0 1 0 -1.9 0M480.4 78.3a0.95 0.95 0 1 0 1.9 0a0.95 0.95 0 1 0 -1.9 0M480.4 84.7a0.95 0.95 0 1 0 1.9 0a0.95 0.95 0 1 0 -1.9 0M480.4 86.8a0.95 0.95 0 1 0 1.9 0a0.95 0.95 0 1 0 -1.9 0M480.4 91.0a0.95 0.95 0 1 0 1.9 0a0.95 0.95 0 1 0 -1.9 0M499.0 80.4a0.95 0.95 0 1 0 1.9 0a0.95 0.95 0 1 0 -1.9 0M499.0 82.7a0.95 0.95 0 1 0 1.9 0a0.95 0.95 0 1 0 -1.9 0M499.0 86.5a0.95 0.95 0 1 0 1.9 0a0.95 0.95 0 1 0 -1.9 0M499.0 97.3a0.95 0.95 0 1 0 1.9 0a0.95 0.95 0 1 0 -1.9 0M517.5 83.2a0.95 0.95 0 1 0 1.9 0a0.95 0.95 0 1 0 -1.9 0M517.5 89.3a0.95 0.95 0 1 0 1.9 0a0.95 0.95 0 1 0 -1.9 0M517.5 91.9a0.95 0.95 0 1 0 1.9 0a0.95 0.95 0 1 0 -1.9 0M517.5 110.5a0.95 0.95 0 1 0 1.9 0a0.95 0.95 0 1 0 -1.9 0M517.5 112.8a0.95 0.95 0 1 0 1.9 0a0.95 0.95 0 1 0 -1.9 0M536.1 86.3a0.95 0.95 0 1 0 1.9 0a0.95 0.95 0 1 0 -1.9 0M536.1 101.0a0.95 0.95 0 1 0 1.9 0a0.95 0.95 0 1 0 -1.9 0M536.1 115.7a0.95 0.95 0 1 0 1.9 0a0.95 0.95 0 1 0 -1.9 0M536.1 118.0a0.95 0.95 0 1 0 1.9 0a0.95 0.95 0 1 0 -1.9 0M554.8 89.4a0.95 0.95 0 1 0 1.9 0a0.95 0.95 0 1 0 -1.9 0M554.8 93.4a0.95 0.95 0 1 0 1.9 0a0.95 0.95 0 1 0 -1.9 0M554.8 108.6a0.95 0.95 0 1 0 1.9 0a0.95 0.95 0 1 0 -1.9 0M554.8 112.3a0.95 0.95 0 1 0 1.9 0a0.95 0.95 0 1 0 -1.9 0M573.4 92.3a0.95 0.95 0 1 0 1.9 0a0.95 0.95 0 1 0 -1.9 0M573.4 94.9a0.95 0.95 0 1 0 1.9 0a0.95 0.95 0 1 0 -1.9 0M573.4 97.1a0.95 0.95 0 1 0 1.9 0a0.95 0.95 0 1 0 -1.9 0M573.4 119.8a0.95 0.95 0 1 0 1.9 0a0.95 0.95 0 1 0 -1.9 0M592.0 92.4a0.95 0.95 0 1 0 1.9 0a0.95 0.95 0 1 0 -1.9 0M592.0 98.5a0.95 0.95 0 1 0 1.9 0a0.95 0.95 0 1 0 -1.9 0M592.0 100.9a0.95 0.95 0 1 0 1.9 0a0.95 0.95 0 1 0 -1.9 0M592.0 104.9a0.95 0.95 0 1 0 1.9 0a0.95 0.95 0 1 0 -1.9 0M592.0 117.3a0.95 0.95 0 1 0 1.9 0a0.95 0.95 0 1 0 -1.9 0M610.5 94.1a0.95 0.95 0 1 0 1.9 0a0.95 0.95 0 1 0 -1.9 0M610.5 96.5a0.95 0.95 0 1 0 1.9 0a0.95 0.95 0 1 0 -1.9 0M629.1 95.6a0.95 0.95 0 1 0 1.9 0a0.95 0.95 0 1 0 -1.9 0M629.1 104.0a0.95 0.95 0 1 0 1.9 0a0.95 0.95 0 1 0 -1.9 0M629.1 106.0a0.95 0.95 0 1 0 1.9 0a0.95 0.95 0 1 0 -1.9 0M629.1 110.3a0.95 0.95 0 1 0 1.9 0a0.95 0.95 0 1 0 -1.9 0M629.1 122.9a0.95 0.95 0 1 0 1.9 0a0.95 0.95 0 1 0 -1.9 0M647.8 100.5a0.95 0.95 0 1 0 1.9 0a0.95 0.95 0 1 0 -1.9 0M647.8 102.5a0.95 0.95 0 1 0 1.9 0a0.95 0.95 0 1 0 -1.9 0M647.8 121.4a0.95 0.95 0 1 0 1.9 0a0.95 0.95 0 1 0 -1.9 0M647.8 125.7a0.95 0.95 0 1 0 1.9 0a0.95 0.95 0 1 0 -1.9 0M666.4 105.5a0.95 0.95 0 1 0 1.9 0a0.95 0.95 0 1 0 -1.9 0M666.4 109.4a0.95 0.95 0 1 0 1.9 0a0.95 0.95 0 1 0 -1.9 0M666.4 113.9a0.95 0.95 0 1 0 1.9 0a0.95 0.95 0 1 0 -1.9 0M666.4 120.2a0.95 0.95 0 1 0 1.9 0a0.95 0.95 0 1 0 -1.9 0M666.4 126.3a0.95 0.95 0 1 0 1.9 0a0.95 0.95 0 1 0 -1.9 0M685.0 111.8a0.95 0.95 0 1 0 1.9 0a0.95 0.95 0 1 0 -1.9 0M685.0 115.5a0.95 0.95 0 1 0 1.9 0a0.95 0.95 0 1 0 -1.9 0M685.0 118.1a0.95 0.95 0 1 0 1.9 0a0.95 0.95 0 1 0 -1.9 0M685.0 126.5a0.95 0.95 0 1 0 1.9 0a0.95 0.95 0 1 0 -1.9 0M685.0 130.6a0.95 0.95 0 1 0 1.9 0a0.95 0.95 0 1 0 -1.9 0M703.5 104.5a0.95 0.95 0 1 0 1.9 0a0.95 0.95 0 1 0 -1.9 0M703.5 106.4a0.95 0.95 0 1 0 1.9 0a0.95 0.95 0 1 0 -1.9 0M703.5 108.4a0.95 0.95 0 1 0 1.9 0a0.95 0.95 0 1 0 -1.9 0M703.5 111.2a0.95 0.95 0 1 0 1.9 0a0.95 0.95 0 1 0 -1.9 0M703.5 112.8a0.95 0.95 0 1 0 1.9 0a0.95 0.95 0 1 0 -1.9 0M703.5 119.0a0.95 0.95 0 1 0 1.9 0a0.95 0.95 0 1 0 -1.9 0M703.5 121.2a0.95 0.95 0 1 0 1.9 0a0.95 0.95 0 1 0 -1.9 0M703.5 123.2a0.95 0.95 0 1 0 1.9 0a0.95 0.95 0 1 0 -1.9 0M703.5 129.7a0.95 0.95 0 1 0 1.9 0a0.95 0.95 0 1 0 -1.9 0M703.5 131.8a0.95 0.95 0 1 0 1.9 0a0.95 0.95 0 1 0 -1.9 0M722.1 106.2a0.95 0.95 0 1 0 1.9 0a0.95 0.95 0 1 0 -1.9 0M722.1 108.4a0.95 0.95 0 1 0 1.9 0a0.95 0.95 0 1 0 -1.9 0M722.1 116.6a0.95 0.95 0 1 0 1.9 0a0.95 0.95 0 1 0 -1.9 0M722.1 120.9a0.95 0.95 0 1 0 1.9 0a0.95 0.95 0 1 0 -1.9 0M722.1 131.5a0.95 0.95 0 1 0 1.9 0a0.95 0.95 0 1 0 -1.9 0M722.1 135.7a0.95 0.95 0 1 0 1.9 0a0.95 0.95 0 1 0 -1.9 0M740.8 110.1a0.95 0.95 0 1 0 1.9 0a0.95 0.95 0 1 0 -1.9 0M740.8 116.7a0.95 0.95 0 1 0 1.9 0a0.95 0.95 0 1 0 -1.9 0M740.8 123.3a0.95 0.95 0 1 0 1.9 0a0.95 0.95 0 1 0 -1.9 0M740.8 129.3a0.95 0.95 0 1 0 1.9 0a0.95 0.95 0 1 0 -1.9 0M740.8 133.3a0.95 0.95 0 1 0 1.9 0a0.95 0.95 0 1 0 -1.9 0M740.8 138.0a0.95 0.95 0 1 0 1.9 0a0.95 0.95 0 1 0 -1.9 0M759.4 107.2a0.95 0.95 0 1 0 1.9 0a0.95 0.95 0 1 0 -1.9 0M759.4 116.0a0.95 0.95 0 1 0 1.9 0a0.95 0.95 0 1 0 -1.9 0M759.4 122.0a0.95 0.95 0 1 0 1.9 0a0.95 0.95 0 1 0 -1.9 0M759.4 124.2a0.95 0.95 0 1 0 1.9 0a0.95 0.95 0 1 0 -1.9 0M759.4 126.6a0.95 0.95 0 1 0 1.9 0a0.95 0.95 0 1 0 -1.9 0M759.4 128.2a0.95 0.95 0 1 0 1.9 0a0.95 0.95 0 1 0 -1.9 0M759.4 134.4a0.95 0.95 0 1 0 1.9 0a0.95 0.95 0 1 0 -1.9 0M759.4 136.8a0.95 0.95 0 1 0 1.9 0a0.95 0.95 0 1 0 -1.9 0M777.6 112.0a0.95 0.95 0 1 0 1.9 0a0.95 0.95 0 1 0 -1.9 0" fill="none" stroke="#ff8a1e" stroke-width="0.75"/><path d="M443.2 81.0a0.95 0.95 0 1 0 1.9 0a0.95 0.95 0 1 0 -1.9 0M443.2 85.1a0.95 0.95 0 1 0 1.9 0a0.95 0.95 0 1 0 -1.9 0M443.2 87.2a0.95 0.95 0 1 0 1.9 0a0.95 0.95 0 1 0 -1.9 0M443.2 88.8a0.95 0.95 0 1 0 1.9 0a0.95 0.95 0 1 0 -1.9 0M443.2 91.6a0.95 0.95 0 1 0 1.9 0a0.95 0.95 0 1 0 -1.9 0M443.2 92.9a0.95 0.95 0 1 0 1.9 0a0.95 0.95 0 1 0 -1.9 0M443.2 95.6a0.95 0.95 0 1 0 1.9 0a0.95 0.95 0 1 0 -1.9 0M443.2 97.5a0.95 0.95 0 1 0 1.9 0a0.95 0.95 0 1 0 -1.9 0M443.2 99.6a0.95 0.95 0 1 0 1.9 0a0.95 0.95 0 1 0 -1.9 0M461.8 83.3a0.95 0.95 0 1 0 1.9 0a0.95 0.95 0 1 0 -1.9 0M461.8 85.3a0.95 0.95 0 1 0 1.9 0a0.95 0.95 0 1 0 -1.9 0M461.8 91.7a0.95 0.95 0 1 0 1.9 0a0.95 0.95 0 1 0 -1.9 0M461.8 96.2a0.95 0.95 0 1 0 1.9 0a0.95 0.95 0 1 0 -1.9 0M461.8 100.6a0.95 0.95 0 1 0 1.9 0a0.95 0.95 0 1 0 -1.9 0M461.8 102.0a0.95 0.95 0 1 0 1.9 0a0.95 0.95 0 1 0 -1.9 0M480.4 82.3a0.95 0.95 0 1 0 1.9 0a0.95 0.95 0 1 0 -1.9 0M480.4 93.3a0.95 0.95 0 1 0 1.9 0a0.95 0.95 0 1 0 -1.9 0M480.4 95.3a0.95 0.95 0 1 0 1.9 0a0.95 0.95 0 1 0 -1.9 0M480.4 97.4a0.95 0.95 0 1 0 1.9 0a0.95 0.95 0 1 0 -1.9 0M480.4 99.8a0.95 0.95 0 1 0 1.9 0a0.95 0.95 0 1 0 -1.9 0M480.4 101.3a0.95 0.95 0 1 0 1.9 0a0.95 0.95 0 1 0 -1.9 0M480.4 103.5a0.95 0.95 0 1 0 1.9 0a0.95 0.95 0 1 0 -1.9 0M480.4 105.8a0.95 0.95 0 1 0 1.9 0a0.95 0.95 0 1 0 -1.9 0M480.4 107.8a0.95 0.95 0 1 0 1.9 0a0.95 0.95 0 1 0 -1.9 0M499.0 88.9a0.95 0.95 0 1 0 1.9 0a0.95 0.95 0 1 0 -1.9 0M499.0 92.8a0.95 0.95 0 1 0 1.9 0a0.95 0.95 0 1 0 -1.9 0M499.0 95.1a0.95 0.95 0 1 0 1.9 0a0.95 0.95 0 1 0 -1.9 0M499.0 99.4a0.95 0.95 0 1 0 1.9 0a0.95 0.95 0 1 0 -1.9 0M499.0 101.3a0.95 0.95 0 1 0 1.9 0a0.95 0.95 0 1 0 -1.9 0M499.0 103.5a0.95 0.95 0 1 0 1.9 0a0.95 0.95 0 1 0 -1.9 0M499.0 105.5a0.95 0.95 0 1 0 1.9 0a0.95 0.95 0 1 0 -1.9 0M499.0 107.8a0.95 0.95 0 1 0 1.9 0a0.95 0.95 0 1 0 -1.9 0M499.0 109.9a0.95 0.95 0 1 0 1.9 0a0.95 0.95 0 1 0 -1.9 0M499.0 111.9a0.95 0.95 0 1 0 1.9 0a0.95 0.95 0 1 0 -1.9 0M517.5 85.0a0.95 0.95 0 1 0 1.9 0a0.95 0.95 0 1 0 -1.9 0M517.5 94.0a0.95 0.95 0 1 0 1.9 0a0.95 0.95 0 1 0 -1.9 0M517.5 95.5a0.95 0.95 0 1 0 1.9 0a0.95 0.95 0 1 0 -1.9 0M517.5 97.6a0.95 0.95 0 1 0 1.9 0a0.95 0.95 0 1 0 -1.9 0M517.5 100.2a0.95 0.95 0 1 0 1.9 0a0.95 0.95 0 1 0 -1.9 0M517.5 102.3a0.95 0.95 0 1 0 1.9 0a0.95 0.95 0 1 0 -1.9 0M517.5 104.1a0.95 0.95 0 1 0 1.9 0a0.95 0.95 0 1 0 -1.9 0M517.5 106.4a0.95 0.95 0 1 0 1.9 0a0.95 0.95 0 1 0 -1.9 0M517.5 108.8a0.95 0.95 0 1 0 1.9 0a0.95 0.95 0 1 0 -1.9 0M517.5 114.6a0.95 0.95 0 1 0 1.9 0a0.95 0.95 0 1 0 -1.9 0M536.1 88.3a0.95 0.95 0 1 0 1.9 0a0.95 0.95 0 1 0 -1.9 0M536.1 90.4a0.95 0.95 0 1 0 1.9 0a0.95 0.95 0 1 0 -1.9 0M536.1 92.5a0.95 0.95 0 1 0 1.9 0a0.95 0.95 0 1 0 -1.9 0M536.1 96.7a0.95 0.95 0 1 0 1.9 0a0.95 0.95 0 1 0 -1.9 0M536.1 98.7a0.95 0.95 0 1 0 1.9 0a0.95 0.95 0 1 0 -1.9 0M536.1 103.2a0.95 0.95 0 1 0 1.9 0a0.95 0.95 0 1 0 -1.9 0M536.1 105.2a0.95 0.95 0 1 0 1.9 0a0.95 0.95 0 1 0 -1.9 0M536.1 107.4a0.95 0.95 0 1 0 1.9 0a0.95 0.95 0 1 0 -1.9 0M536.1 109.4a0.95 0.95 0 1 0 1.9 0a0.95 0.95 0 1 0 -1.9 0M536.1 111.7a0.95 0.95 0 1 0 1.9 0a0.95 0.95 0 1 0 -1.9 0M536.1 113.5a0.95 0.95 0 1 0 1.9 0a0.95 0.95 0 1 0 -1.9 0M554.8 91.6a0.95 0.95 0 1 0 1.9 0a0.95 0.95 0 1 0 -1.9 0M554.8 100.0a0.95 0.95 0 1 0 1.9 0a0.95 0.95 0 1 0 -1.9 0M554.8 101.6a0.95 0.95 0 1 0 1.9 0a0.95 0.95 0 1 0 -1.9 0M554.8 104.0a0.95 0.95 0 1 0 1.9 0a0.95 0.95 0 1 0 -1.9 0M554.8 106.3a0.95 0.95 0 1 0 1.9 0a0.95 0.95 0 1 0 -1.9 0M554.8 110.8a0.95 0.95 0 1 0 1.9 0a0.95 0.95 0 1 0 -1.9 0M554.8 114.6a0.95 0.95 0 1 0 1.9 0a0.95 0.95 0 1 0 -1.9 0M554.8 116.6a0.95 0.95 0 1 0 1.9 0a0.95 0.95 0 1 0 -1.9 0M554.8 121.0a0.95 0.95 0 1 0 1.9 0a0.95 0.95 0 1 0 -1.9 0M573.4 98.4a0.95 0.95 0 1 0 1.9 0a0.95 0.95 0 1 0 -1.9 0M573.4 100.8a0.95 0.95 0 1 0 1.9 0a0.95 0.95 0 1 0 -1.9 0M573.4 103.0a0.95 0.95 0 1 0 1.9 0a0.95 0.95 0 1 0 -1.9 0M573.4 105.2a0.95 0.95 0 1 0 1.9 0a0.95 0.95 0 1 0 -1.9 0M573.4 107.2a0.95 0.95 0 1 0 1.9 0a0.95 0.95 0 1 0 -1.9 0M573.4 108.8a0.95 0.95 0 1 0 1.9 0a0.95 0.95 0 1 0 -1.9 0M573.4 111.2a0.95 0.95 0 1 0 1.9 0a0.95 0.95 0 1 0 -1.9 0M573.4 113.5a0.95 0.95 0 1 0 1.9 0a0.95 0.95 0 1 0 -1.9 0M573.4 118.0a0.95 0.95 0 1 0 1.9 0a0.95 0.95 0 1 0 -1.9 0M573.4 121.8a0.95 0.95 0 1 0 1.9 0a0.95 0.95 0 1 0 -1.9 0M592.0 94.5a0.95 0.95 0 1 0 1.9 0a0.95 0.95 0 1 0 -1.9 0M592.0 96.6a0.95 0.95 0 1 0 1.9 0a0.95 0.95 0 1 0 -1.9 0M592.0 102.9a0.95 0.95 0 1 0 1.9 0a0.95 0.95 0 1 0 -1.9 0M592.0 106.8a0.95 0.95 0 1 0 1.9 0a0.95 0.95 0 1 0 -1.9 0M592.0 109.2a0.95 0.95 0 1 0 1.9 0a0.95 0.95 0 1 0 -1.9 0M592.0 111.6a0.95 0.95 0 1 0 1.9 0a0.95 0.95 0 1 0 -1.9 0M592.0 113.1a0.95 0.95 0 1 0 1.9 0a0.95 0.95 0 1 0 -1.9 0M592.0 115.3a0.95 0.95 0 1 0 1.9 0a0.95 0.95 0 1 0 -1.9 0M592.0 119.8a0.95 0.95 0 1 0 1.9 0a0.95 0.95 0 1 0 -1.9 0M592.0 121.4a0.95 0.95 0 1 0 1.9 0a0.95 0.95 0 1 0 -1.9 0M592.0 123.9a0.95 0.95 0 1 0 1.9 0a0.95 0.95 0 1 0 -1.9 0M610.5 92.5a0.95 0.95 0 1 0 1.9 0a0.95 0.95 0 1 0 -1.9 0M610.5 98.9a0.95 0.95 0 1 0 1.9 0a0.95 0.95 0 1 0 -1.9 0M610.5 103.1a0.95 0.95 0 1 0 1.9 0a0.95 0.95 0 1 0 -1.9 0M610.5 104.6a0.95 0.95 0 1 0 1.9 0a0.95 0.95 0 1 0 -1.9 0M610.5 106.9a0.95 0.95 0 1 0 1.9 0a0.95 0.95 0 1 0 -1.9 0M610.5 109.2a0.95 0.95 0 1 0 1.9 0a0.95 0.95 0 1 0 -1.9 0M610.5 111.0a0.95 0.95 0 1 0 1.9 0a0.95 0.95 0 1 0 -1.9 0M610.5 113.6a0.95 0.95 0 1 0 1.9 0a0.95 0.95 0 1 0 -1.9 0M610.5 115.4a0.95 0.95 0 1 0 1.9 0a0.95 0.95 0 1 0 -1.9 0M610.5 117.5a0.95 0.95 0 1 0 1.9 0a0.95 0.95 0 1 0 -1.9 0M610.5 119.8a0.95 0.95 0 1 0 1.9 0a0.95 0.95 0 1 0 -1.9 0M610.5 121.8a0.95 0.95 0 1 0 1.9 0a0.95 0.95 0 1 0 -1.9 0M610.5 123.8a0.95 0.95 0 1 0 1.9 0a0.95 0.95 0 1 0 -1.9 0M610.5 125.8a0.95 0.95 0 1 0 1.9 0a0.95 0.95 0 1 0 -1.9 0M629.1 108.0a0.95 0.95 0 1 0 1.9 0a0.95 0.95 0 1 0 -1.9 0M629.1 112.2a0.95 0.95 0 1 0 1.9 0a0.95 0.95 0 1 0 -1.9 0M629.1 114.6a0.95 0.95 0 1 0 1.9 0a0.95 0.95 0 1 0 -1.9 0M629.1 116.6a0.95 0.95 0 1 0 1.9 0a0.95 0.95 0 1 0 -1.9 0M629.1 119.0a0.95 0.95 0 1 0 1.9 0a0.95 0.95 0 1 0 -1.9 0M629.1 124.9a0.95 0.95 0 1 0 1.9 0a0.95 0.95 0 1 0 -1.9 0M629.1 127.2a0.95 0.95 0 1 0 1.9 0a0.95 0.95 0 1 0 -1.9 0M647.8 104.3a0.95 0.95 0 1 0 1.9 0a0.95 0.95 0 1 0 -1.9 0M647.8 113.1a0.95 0.95 0 1 0 1.9 0a0.95 0.95 0 1 0 -1.9 0M647.8 115.2a0.95 0.95 0 1 0 1.9 0a0.95 0.95 0 1 0 -1.9 0M647.8 116.8a0.95 0.95 0 1 0 1.9 0a0.95 0.95 0 1 0 -1.9 0M647.8 119.3a0.95 0.95 0 1 0 1.9 0a0.95 0.95 0 1 0 -1.9 0M647.8 123.6a0.95 0.95 0 1 0 1.9 0a0.95 0.95 0 1 0 -1.9 0M647.8 128.0a0.95 0.95 0 1 0 1.9 0a0.95 0.95 0 1 0 -1.9 0M647.8 129.7a0.95 0.95 0 1 0 1.9 0a0.95 0.95 0 1 0 -1.9 0M647.8 131.8a0.95 0.95 0 1 0 1.9 0a0.95 0.95 0 1 0 -1.9 0M666.4 132.3a0.95 0.95 0 1 0 1.9 0a0.95 0.95 0 1 0 -1.9 0M666.4 134.6a0.95 0.95 0 1 0 1.9 0a0.95 0.95 0 1 0 -1.9 0M666.4 130.2a0.95 0.95 0 1 0 1.9 0a0.95 0.95 0 1 0 -1.9 0M666.4 132.2a0.95 0.95 0 1 0 1.9 0a0.95 0.95 0 1 0 -1.9 0M666.4 134.2a0.95 0.95 0 1 0 1.9 0a0.95 0.95 0 1 0 -1.9 0M666.4 136.5a0.95 0.95 0 1 0 1.9 0a0.95 0.95 0 1 0 -1.9 0M666.4 138.8a0.95 0.95 0 1 0 1.9 0a0.95 0.95 0 1 0 -1.9 0M666.4 141.1a0.95 0.95 0 1 0 1.9 0a0.95 0.95 0 1 0 -1.9 0M666.4 143.0a0.95 0.95 0 1 0 1.9 0a0.95 0.95 0 1 0 -1.9 0M666.4 145.2a0.95 0.95 0 1 0 1.9 0a0.95 0.95 0 1 0 -1.9 0M666.4 147.6a0.95 0.95 0 1 0 1.9 0a0.95 0.95 0 1 0 -1.9 0M666.4 130.0a0.95 0.95 0 1 0 1.9 0a0.95 0.95 0 1 0 -1.9 0M666.4 132.2a0.95 0.95 0 1 0 1.9 0a0.95 0.95 0 1 0 -1.9 0M666.4 134.4a0.95 0.95 0 1 0 1.9 0a0.95 0.95 0 1 0 -1.9 0M666.4 136.6a0.95 0.95 0 1 0 1.9 0a0.95 0.95 0 1 0 -1.9 0M666.4 138.8a0.95 0.95 0 1 0 1.9 0a0.95 0.95 0 1 0 -1.9 0M666.4 141.0a0.95 0.95 0 1 0 1.9 0a0.95 0.95 0 1 0 -1.9 0M666.4 143.2a0.95 0.95 0 1 0 1.9 0a0.95 0.95 0 1 0 -1.9 0M666.4 145.4a0.95 0.95 0 1 0 1.9 0a0.95 0.95 0 1 0 -1.9 0M666.4 147.6a0.95 0.95 0 1 0 1.9 0a0.95 0.95 0 1 0 -1.9 0M685.0 135.3a0.95 0.95 0 1 0 1.9 0a0.95 0.95 0 1 0 -1.9 0M685.0 169.9a0.95 0.95 0 1 0 1.9 0a0.95 0.95 0 1 0 -1.9 0M685.0 171.9a0.95 0.95 0 1 0 1.9 0a0.95 0.95 0 1 0 -1.9 0M685.0 174.4a0.95 0.95 0 1 0 1.9 0a0.95 0.95 0 1 0 -1.9 0M685.0 176.5a0.95 0.95 0 1 0 1.9 0a0.95 0.95 0 1 0 -1.9 0M685.0 178.6a0.95 0.95 0 1 0 1.9 0a0.95 0.95 0 1 0 -1.9 0M685.0 180.7a0.95 0.95 0 1 0 1.9 0a0.95 0.95 0 1 0 -1.9 0M685.0 183.3a0.95 0.95 0 1 0 1.9 0a0.95 0.95 0 1 0 -1.9 0M685.0 184.9a0.95 0.95 0 1 0 1.9 0a0.95 0.95 0 1 0 -1.9 0M685.0 187.6a0.95 0.95 0 1 0 1.9 0a0.95 0.95 0 1 0 -1.9 0M685.0 189.6a0.95 0.95 0 1 0 1.9 0a0.95 0.95 0 1 0 -1.9 0M703.5 135.3a0.95 0.95 0 1 0 1.9 0a0.95 0.95 0 1 0 -1.9 0M703.5 137.6a0.95 0.95 0 1 0 1.9 0a0.95 0.95 0 1 0 -1.9 0M703.5 142.2a0.95 0.95 0 1 0 1.9 0a0.95 0.95 0 1 0 -1.9 0M703.5 167.7a0.95 0.95 0 1 0 1.9 0a0.95 0.95 0 1 0 -1.9 0M703.5 170.1a0.95 0.95 0 1 0 1.9 0a0.95 0.95 0 1 0 -1.9 0M703.5 172.0a0.95 0.95 0 1 0 1.9 0a0.95 0.95 0 1 0 -1.9 0M703.5 174.5a0.95 0.95 0 1 0 1.9 0a0.95 0.95 0 1 0 -1.9 0M703.5 176.8a0.95 0.95 0 1 0 1.9 0a0.95 0.95 0 1 0 -1.9 0M703.5 179.0a0.95 0.95 0 1 0 1.9 0a0.95 0.95 0 1 0 -1.9 0M703.5 181.6a0.95 0.95 0 1 0 1.9 0a0.95 0.95 0 1 0 -1.9 0M703.5 183.2a0.95 0.95 0 1 0 1.9 0a0.95 0.95 0 1 0 -1.9 0M722.1 141.6a0.95 0.95 0 1 0 1.9 0a0.95 0.95 0 1 0 -1.9 0M722.1 143.9a0.95 0.95 0 1 0 1.9 0a0.95 0.95 0 1 0 -1.9 0M722.1 161.9a0.95 0.95 0 1 0 1.9 0a0.95 0.95 0 1 0 -1.9 0M722.1 164.4a0.95 0.95 0 1 0 1.9 0a0.95 0.95 0 1 0 -1.9 0M722.1 166.5a0.95 0.95 0 1 0 1.9 0a0.95 0.95 0 1 0 -1.9 0M722.1 169.1a0.95 0.95 0 1 0 1.9 0a0.95 0.95 0 1 0 -1.9 0M722.1 170.2a0.95 0.95 0 1 0 1.9 0a0.95 0.95 0 1 0 -1.9 0M722.1 172.8a0.95 0.95 0 1 0 1.9 0a0.95 0.95 0 1 0 -1.9 0M722.1 175.2a0.95 0.95 0 1 0 1.9 0a0.95 0.95 0 1 0 -1.9 0M722.1 177.3a0.95 0.95 0 1 0 1.9 0a0.95 0.95 0 1 0 -1.9 0M740.8 144.9a0.95 0.95 0 1 0 1.9 0a0.95 0.95 0 1 0 -1.9 0M740.8 162.2a0.95 0.95 0 1 0 1.9 0a0.95 0.95 0 1 0 -1.9 0M740.8 164.3a0.95 0.95 0 1 0 1.9 0a0.95 0.95 0 1 0 -1.9 0M740.8 166.4a0.95 0.95 0 1 0 1.9 0a0.95 0.95 0 1 0 -1.9 0M740.8 168.5a0.95 0.95 0 1 0 1.9 0a0.95 0.95 0 1 0 -1.9 0M740.8 170.6a0.95 0.95 0 1 0 1.9 0a0.95 0.95 0 1 0 -1.9 0M740.8 172.8a0.95 0.95 0 1 0 1.9 0a0.95 0.95 0 1 0 -1.9 0M740.8 175.0a0.95 0.95 0 1 0 1.9 0a0.95 0.95 0 1 0 -1.9 0M740.8 177.5a0.95 0.95 0 1 0 1.9 0a0.95 0.95 0 1 0 -1.9 0M759.4 139.3a0.95 0.95 0 1 0 1.9 0a0.95 0.95 0 1 0 -1.9 0M759.4 143.9a0.95 0.95 0 1 0 1.9 0a0.95 0.95 0 1 0 -1.9 0M759.4 160.2a0.95 0.95 0 1 0 1.9 0a0.95 0.95 0 1 0 -1.9 0M759.4 162.0a0.95 0.95 0 1 0 1.9 0a0.95 0.95 0 1 0 -1.9 0M759.4 164.1a0.95 0.95 0 1 0 1.9 0a0.95 0.95 0 1 0 -1.9 0M759.4 166.5a0.95 0.95 0 1 0 1.9 0a0.95 0.95 0 1 0 -1.9 0M759.4 168.9a0.95 0.95 0 1 0 1.9 0a0.95 0.95 0 1 0 -1.9 0M759.4 171.1a0.95 0.95 0 1 0 1.9 0a0.95 0.95 0 1 0 -1.9 0M759.4 173.5a0.95 0.95 0 1 0 1.9 0a0.95 0.95 0 1 0 -1.9 0M759.4 175.7a0.95 0.95 0 1 0 1.9 0a0.95 0.95 0 1 0 -1.9 0M759.4 177.8a0.95 0.95 0 1 0 1.9 0a0.95 0.95 0 1 0 -1.9 0" fill="none" stroke="#ff1a1a" stroke-width="0.75"/><text x="452.1" y="180.2" font-family="Liberation Serif" font-size="13.4" fill="#9e9e9e">Configuration : ON - OFF</text><text x="486.8" y="196.6" font-family="Liberation Serif" font-size="13.0" fill="#000">1 µW</text><path d="M465.5 192.3a0.9 0.9 0 1 0 1.8 0a0.9 0.9 0 1 0 -1.8 0" fill="none" stroke="#c22cff" stroke-width="0.7"/><text x="486.8" y="212.9" font-family="Liberation Serif" font-size="13.0" fill="#000">10 µW</text><path d="M465.5 208.6a0.9 0.9 0 1 0 1.8 0a0.9 0.9 0 1 0 -1.8 0" fill="none" stroke="#5a3cff" stroke-width="0.7"/><text x="486.8" y="229.2" font-family="Liberation Serif" font-size="13.0" fill="#000">50 µW</text><path d="M465.5 224.9a0.9 0.9 0 1 0 1.8 0a0.9 0.9 0 1 0 -1.8 0" fill="none" stroke="#1e8cff" stroke-width="0.7"/><text x="486.8" y="245.5" font-family="Liberation Serif" font-size="13.0" fill="#000">100 µW</text><path d="M465.5 241.2a0.9 0.9 0 1 0 1.8 0a0.9 0.9 0 1 0 -1.8 0" fill="none" stroke="#22b482" stroke-width="0.7"/><text x="486.8" y="261.8" font-family="Liberation Serif" font-size="13.0" fill="#000">500 µW</text><path d="M465.5 257.5a0.9 0.9 0 1 0 1.8 0a0.9 0.9 0 1 0 -1.8 0" fill="none" stroke="#ff8a1e" stroke-width="0.7"/><text x="486.8" y="278.1" font-family="Liberation Serif" font-size="13.0" fill="#000">1 mW</text><path d="M465.5 273.8a0.9 0.9 0 1 0 1.8 0a0.9 0.9 0 1 0 -1.8 0" fill="none" stroke="#ff1a1a" stroke-width="0.7"/><text x="653" y="276" font-family="Liberation Serif" font-weight="bold" font-size="20.5" fill="#000">(b)</text><rect x="688.8" y="256.2" width="75.2" height="24.9" fill="#fdf3ad"/><text x="692" y="274.9" font-family="Liberation Serif" font-size="18" fill="#000">Recovery</text><rect x="444.5" y="40.0" width="336.0" height="248.5" fill="none" stroke="#000" stroke-width="1.3"/><path d="M440.0 288.5H444.5M780.5 288.5H776.0M442.3 263.6H444.5M780.5 263.6H778.0M440.0 238.8H444.5M780.5 238.8H776.0M442.3 213.9H444.5M780.5 213.9H778.0M440.0 189.1H444.5M780.5 189.1H776.0M442.3 164.2H444.5M780.5 164.2H778.0M440.0 139.4H444.5M780.5 139.4H776.0M442.3 114.6H444.5M780.5 114.6H778.0M440.0 89.7H444.5M780.5 89.7H776.0M442.3 64.9H444.5M780.5 64.9H778.0M440.0 40.0H444.5M780.5 40.0H776.0M444.5 288.5V292.5M444.5 40.0V44.5M500.5 288.5V290.5M500.5 40.0V42.5M556.5 288.5V292.5M556.5 40.0V44.5M612.5 288.5V290.5M612.5 40.0V42.5M668.5 288.5V292.5M668.5 40.0V44.5M724.5 288.5V290.5M724.5 40.0V42.5M780.5 288.5V292.5M780.5 40.0V44.5" stroke="#111" stroke-width="1.2" fill="none"/><text x="434.2" y="292.8" font-family="Liberation Serif" font-weight="bold" font-size="13.6" text-anchor="end">0.92</text><text x="434.2" y="243.1" font-family="Liberation Serif" font-weight="bold" font-size="13.6" text-anchor="end">0.94</text><text x="434.2" y="193.4" font-family="Liberation Serif" font-weight="bold" font-size="13.6" text-anchor="end">0.96</text><text x="434.2" y="143.7" font-family="Liberation Serif" font-weight="bold" font-size="13.6" text-anchor="end">0.98</text><text x="434.2" y="94.0" font-family="Liberation Serif" font-weight="bold" font-size="13.6" text-anchor="end">1.00</text><text x="434.2" y="44.3" font-family="Liberation Serif" font-weight="bold" font-size="13.6" text-anchor="end">1.02</text><text x="444.5" y="309" font-family="Liberation Serif" font-weight="bold" font-size="13.6" text-anchor="middle">0</text><text x="556.5" y="309" font-family="Liberation Serif" font-weight="bold" font-size="13.6" text-anchor="middle">1</text><text x="668.5" y="309" font-family="Liberation Serif" font-weight="bold" font-size="13.6" text-anchor="middle">2</text><text x="780.5" y="309" font-family="Liberation Serif" font-weight="bold" font-size="13.6" text-anchor="middle">3</text><text x="622.8" y="327.8" font-family="Liberation Serif" font-weight="bold" font-size="15.7" text-anchor="middle">Time after irradiation (h)</text><text transform="translate(405.0 163.9) rotate(-90)" font-family="Liberation Serif" font-weight="bold" font-size="12.1" text-anchor="middle">Normalized RIA</text></svg></body></html>
